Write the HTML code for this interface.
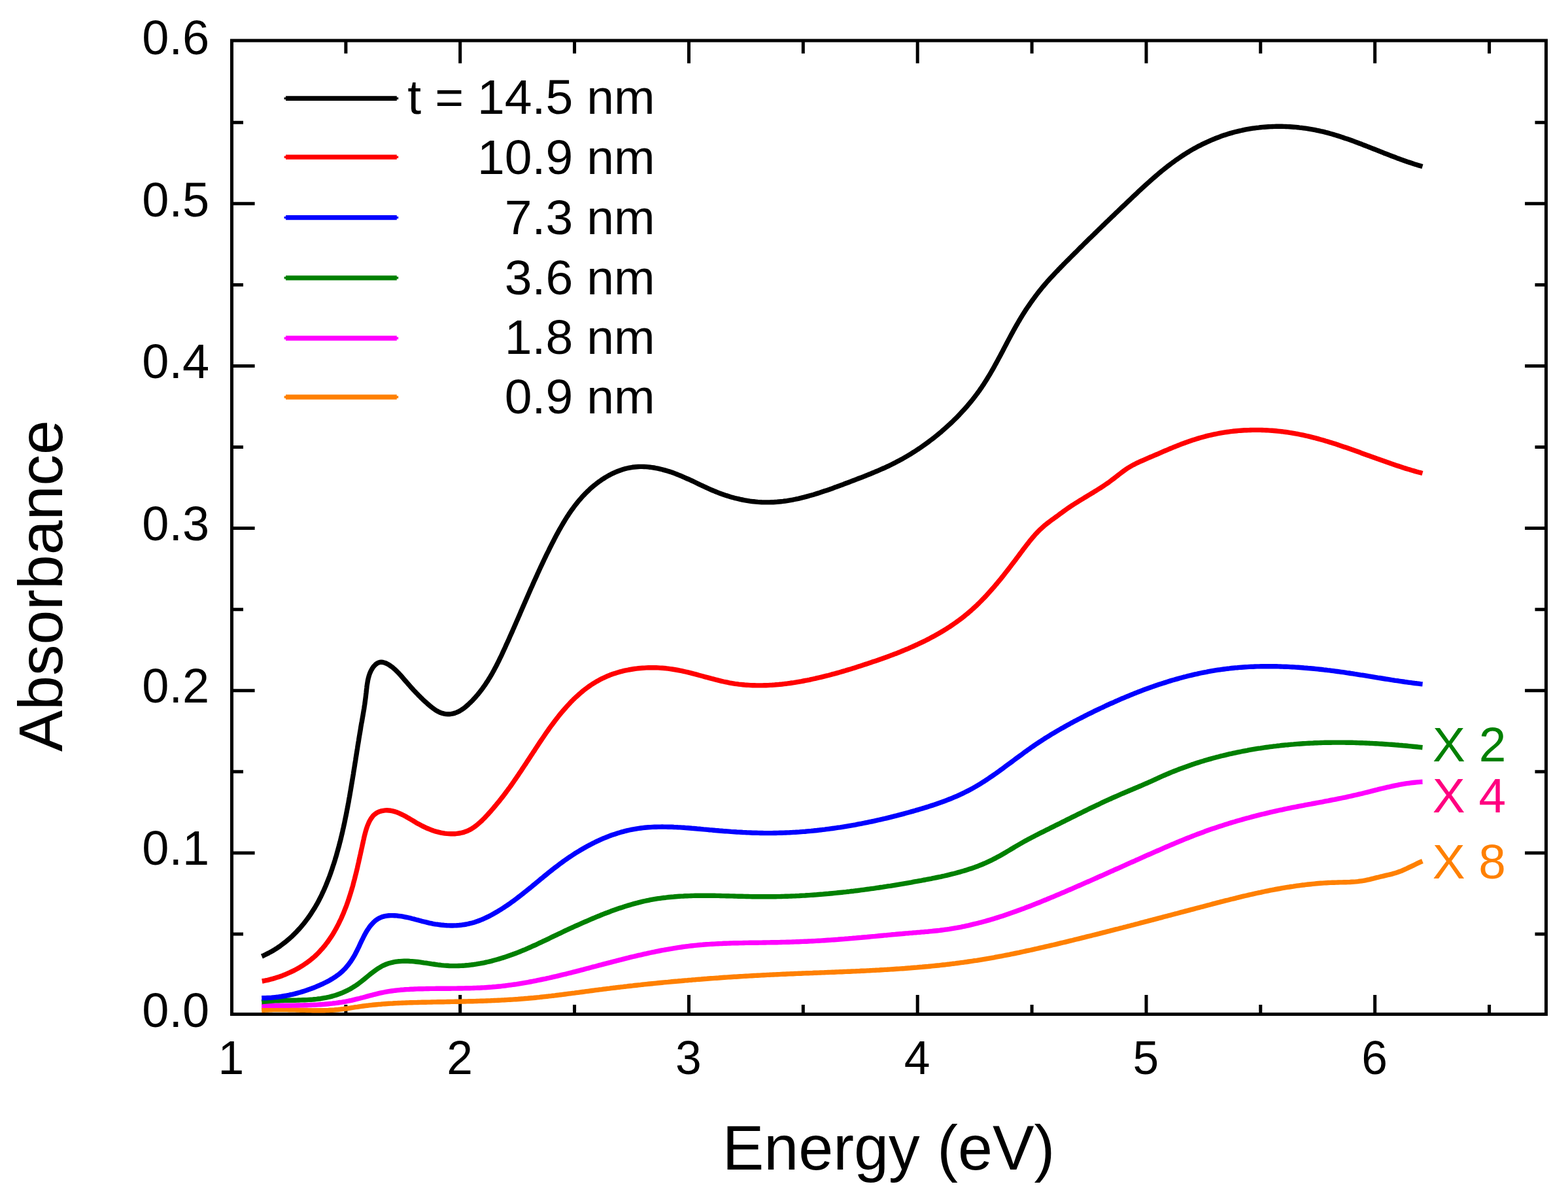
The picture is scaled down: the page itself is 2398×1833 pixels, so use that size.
<!DOCTYPE html>
<html><head><meta charset="utf-8"><title>Absorbance vs Energy</title>
<style>html,body{margin:0;padding:0;background:#fff;}body{width:2398px;height:1833px;overflow:hidden;}svg{display:block;}text{font-family:"Liberation Sans",Arial,sans-serif;}</style>
</head><body>
<svg width="2398" height="1833" viewBox="0 0 2398 1833">
<rect x="0" y="0" width="2398" height="1833" fill="#fff"/>
<g stroke="#000" stroke-width="5" fill="none" stroke-linecap="square">
<rect x="354.5" y="62.0" width="2010.0" height="1488.5" stroke-linecap="square" stroke-linejoin="miter"/>
<path stroke-linecap="butt" d="M703.7,1550.5V1521M703.7,62.0V96.8M1053.5,1550.5V1521M1053.5,62.0V96.8M1403.2,1550.5V1521M1403.2,62.0V96.8M1753,1550.5V1521M1753,62.0V96.8M2102.7,1550.5V1521M2102.7,62.0V96.8M528.9,1550.5V1536M528.9,62.0V81.8M878.6,1550.5V1536M878.6,62.0V81.8M1228.3,1550.5V1536M1228.3,62.0V81.8M1578.1,1550.5V1536M1578.1,62.0V81.8M1927.8,1550.5V1536M1927.8,62.0V81.8M2277.6,1550.5V1536M2277.6,62.0V81.8M354.5,1303.9H389.6M2364.5,1303.9H2332.1M354.5,1055.8H389.6M2364.5,1055.8H2332.1M354.5,807.6H389.6M2364.5,807.6H2332.1M354.5,559.4H389.6M2364.5,559.4H2332.1M354.5,311.3H389.6M2364.5,311.3H2332.1M354.5,1428H372M2364.5,1428H2347.5M354.5,1179.8H372M2364.5,1179.8H2347.5M354.5,931.7H372M2364.5,931.7H2347.5M354.5,683.5H372M2364.5,683.5H2347.5M354.5,435.4H372M2364.5,435.4H2347.5M354.5,187.2H372M2364.5,187.2H2347.5"/>
</g>
<g fill="none" stroke-width="7.4" stroke-linejoin="round" stroke-linecap="butt">
<path stroke="#FF8000" d="M400.1,1544.6L403.1,1544.4 406.0,1544.1 409.0,1544.0 412.0,1543.8 415.0,1543.7 418.0,1543.6 421.0,1543.6 424.0,1543.5 427.0,1543.5 430.0,1543.5 433.0,1543.5 436.0,1543.6 439.0,1543.6 442.0,1543.7 445.0,1543.8 448.0,1543.9 451.0,1543.9 454.0,1544.0 457.0,1544.1 460.0,1544.2 463.0,1544.3 466.0,1544.4 469.0,1544.5 472.0,1544.6 475.0,1544.6 478.0,1544.7 481.1,1544.7 484.1,1544.8 487.1,1544.8 490.1,1544.8 493.1,1544.7 496.1,1544.7 499.1,1544.6 502.1,1544.5 505.1,1544.3 508.0,1544.2 511.0,1544.0 514.0,1543.7 517.0,1543.5 520.0,1543.1 523.0,1542.8 525.9,1542.4 528.9,1542.0 531.9,1541.6 534.8,1541.1 537.8,1540.6 540.8,1540.2 543.7,1539.7 546.7,1539.3 549.7,1538.8 552.7,1538.4 555.6,1538.0 558.6,1537.6 561.6,1537.3 564.6,1536.9 567.5,1536.6 570.5,1536.3 573.5,1536.0 576.5,1535.7 579.5,1535.4 582.4,1535.2 585.4,1534.9 588.4,1534.7 591.4,1534.5 594.4,1534.3 597.4,1534.1 600.4,1534.0 603.4,1533.8 606.4,1533.6 609.3,1533.5 612.3,1533.4 615.3,1533.2 618.3,1533.1 621.3,1533.0 624.3,1532.9 627.3,1532.8 630.3,1532.7 633.3,1532.6 636.3,1532.6 639.3,1532.5 642.3,1532.4 645.3,1532.3 648.3,1532.3 651.3,1532.2 654.3,1532.1 657.3,1532.1 660.3,1532.0 663.3,1531.9 666.3,1531.9 669.3,1531.8 672.3,1531.8 675.3,1531.7 678.3,1531.7 681.3,1531.6 684.3,1531.5 687.3,1531.5 690.2,1531.4 693.2,1531.4 696.2,1531.3 699.2,1531.2 702.2,1531.2 705.2,1531.1 708.2,1531.0 711.2,1531.0 714.2,1530.9 717.2,1530.8 720.2,1530.7 723.2,1530.7 726.2,1530.6 729.2,1530.5 732.2,1530.4 735.2,1530.3 738.2,1530.2 741.2,1530.1 744.2,1530.0 747.2,1529.9 750.2,1529.8 753.2,1529.6 756.1,1529.5 759.1,1529.4 762.1,1529.2 765.1,1529.1 768.1,1528.9 771.1,1528.8 774.1,1528.6 777.1,1528.4 780.1,1528.2 783.1,1528.1 786.0,1527.9 789.0,1527.7 792.0,1527.5 795.0,1527.2 798.0,1527.0 801.0,1526.8 804.0,1526.5 807.0,1526.3 809.9,1526.0 812.9,1525.7 815.9,1525.5 818.9,1525.2 821.9,1524.9 824.8,1524.6 827.8,1524.2 830.8,1523.9 833.8,1523.6 836.8,1523.3 839.7,1522.9 842.7,1522.6 845.7,1522.2 848.7,1521.9 851.7,1521.5 854.6,1521.1 857.6,1520.8 860.6,1520.4 863.6,1520.0 866.5,1519.6 869.5,1519.2 872.5,1518.8 875.5,1518.4 878.4,1518.1 881.4,1517.7 884.4,1517.3 887.4,1516.9 890.4,1516.5 893.3,1516.1 896.3,1515.7 899.3,1515.3 902.3,1514.9 905.2,1514.5 908.2,1514.1 911.2,1513.7 914.2,1513.3 917.1,1512.9 920.1,1512.6 923.1,1512.2 926.1,1511.8 929.0,1511.4 932.0,1511.1 935.0,1510.7 938.0,1510.3 940.9,1510.0 943.9,1509.6 946.9,1509.3 949.9,1508.9 952.8,1508.6 955.8,1508.2 958.8,1507.9 961.8,1507.5 964.8,1507.2 967.7,1506.9 970.7,1506.5 973.7,1506.2 976.7,1505.9 979.6,1505.6 982.6,1505.2 985.6,1504.9 988.6,1504.6 991.6,1504.3 994.5,1504.0 997.5,1503.7 1000.5,1503.4 1003.5,1503.1 1006.5,1502.8 1009.4,1502.5 1012.4,1502.2 1015.4,1501.9 1018.4,1501.6 1021.4,1501.4 1024.3,1501.1 1027.3,1500.8 1030.3,1500.5 1033.3,1500.2 1036.3,1500.0 1039.3,1499.7 1042.2,1499.5 1045.2,1499.2 1048.2,1498.9 1051.2,1498.7 1054.2,1498.4 1057.1,1498.2 1060.1,1497.9 1063.1,1497.7 1066.1,1497.4 1069.1,1497.2 1072.1,1497.0 1075.1,1496.7 1078.0,1496.5 1081.0,1496.3 1084.0,1496.0 1087.0,1495.8 1090.0,1495.6 1093.0,1495.4 1096.0,1495.2 1098.9,1495.0 1101.9,1494.7 1104.9,1494.5 1107.9,1494.3 1110.9,1494.1 1113.9,1493.9 1116.9,1493.7 1119.9,1493.5 1122.8,1493.3 1125.8,1493.2 1128.8,1493.0 1131.8,1492.8 1134.8,1492.6 1137.8,1492.4 1140.8,1492.2 1143.8,1492.1 1146.8,1491.9 1149.8,1491.7 1152.8,1491.5 1155.7,1491.4 1158.7,1491.2 1161.7,1491.1 1164.7,1490.9 1167.7,1490.7 1170.7,1490.6 1173.7,1490.4 1176.7,1490.3 1179.7,1490.1 1182.7,1490.0 1185.7,1489.9 1188.7,1489.7 1191.7,1489.6 1194.7,1489.4 1197.7,1489.3 1200.7,1489.2 1203.7,1489.0 1206.7,1488.9 1209.7,1488.8 1212.7,1488.7 1215.7,1488.5 1218.7,1488.4 1221.7,1488.3 1224.7,1488.2 1227.6,1488.0 1230.6,1487.9 1233.6,1487.8 1236.6,1487.7 1239.6,1487.6 1242.6,1487.5 1245.6,1487.3 1248.6,1487.2 1251.6,1487.1 1254.6,1487.0 1257.6,1486.9 1260.6,1486.8 1263.6,1486.6 1266.6,1486.5 1269.6,1486.4 1272.6,1486.3 1275.6,1486.2 1278.6,1486.0 1281.6,1485.9 1284.6,1485.8 1287.6,1485.7 1290.6,1485.5 1293.6,1485.4 1296.6,1485.3 1299.6,1485.2 1302.6,1485.0 1305.6,1484.9 1308.6,1484.8 1311.6,1484.6 1314.6,1484.5 1317.6,1484.3 1320.6,1484.2 1323.6,1484.1 1326.6,1483.9 1329.6,1483.8 1332.6,1483.6 1335.6,1483.4 1338.6,1483.3 1341.6,1483.1 1344.6,1483.0 1347.6,1482.8 1350.6,1482.6 1353.6,1482.4 1356.5,1482.3 1359.5,1482.1 1362.5,1481.9 1365.5,1481.7 1368.5,1481.5 1371.5,1481.3 1374.5,1481.1 1377.5,1480.9 1380.5,1480.7 1383.5,1480.5 1386.4,1480.2 1389.4,1480.0 1392.4,1479.8 1395.4,1479.5 1398.4,1479.3 1401.4,1479.1 1404.4,1478.8 1407.3,1478.5 1410.3,1478.3 1413.3,1478.0 1416.3,1477.7 1419.3,1477.5 1422.2,1477.2 1425.2,1476.9 1428.2,1476.6 1431.2,1476.3 1434.2,1476.0 1437.1,1475.7 1440.1,1475.3 1443.1,1475.0 1446.1,1474.7 1449.0,1474.3 1452.0,1474.0 1455.0,1473.6 1457.9,1473.2 1460.9,1472.9 1463.9,1472.5 1466.8,1472.1 1469.8,1471.7 1472.8,1471.3 1475.7,1470.9 1478.7,1470.5 1481.7,1470.0 1484.6,1469.6 1487.6,1469.2 1490.5,1468.7 1493.5,1468.3 1496.5,1467.8 1499.4,1467.3 1502.4,1466.8 1505.3,1466.3 1508.3,1465.8 1511.2,1465.3 1514.2,1464.8 1517.1,1464.3 1520.1,1463.8 1523.0,1463.2 1526.0,1462.7 1528.9,1462.1 1531.9,1461.6 1534.8,1461.0 1537.8,1460.4 1540.7,1459.8 1543.6,1459.3 1546.6,1458.7 1549.5,1458.1 1552.5,1457.5 1555.4,1456.9 1558.3,1456.3 1561.3,1455.6 1564.2,1455.0 1567.1,1454.4 1570.1,1453.7 1573.0,1453.1 1575.9,1452.5 1578.9,1451.8 1581.8,1451.2 1584.7,1450.5 1587.6,1449.9 1590.6,1449.2 1593.5,1448.5 1596.4,1447.9 1599.3,1447.2 1602.3,1446.5 1605.2,1445.8 1608.1,1445.1 1611.0,1444.5 1614.0,1443.8 1616.9,1443.1 1619.8,1442.4 1622.7,1441.7 1625.6,1441.0 1628.5,1440.3 1631.5,1439.6 1634.4,1438.9 1637.3,1438.2 1640.2,1437.5 1643.1,1436.7 1646.0,1436.0 1648.9,1435.3 1651.8,1434.6 1654.7,1433.9 1657.7,1433.2 1660.6,1432.4 1663.5,1431.7 1666.4,1431.0 1669.3,1430.3 1672.2,1429.5 1675.1,1428.8 1678.0,1428.1 1680.9,1427.4 1683.8,1426.6 1686.7,1425.9 1689.6,1425.2 1692.5,1424.4 1695.4,1423.7 1698.3,1422.9 1701.2,1422.2 1704.1,1421.4 1707.0,1420.7 1709.9,1420.0 1712.8,1419.2 1715.7,1418.5 1718.6,1417.7 1721.5,1417.0 1724.4,1416.2 1727.3,1415.5 1730.2,1414.7 1733.1,1414.0 1736.0,1413.2 1738.9,1412.5 1741.8,1411.7 1744.7,1410.9 1747.6,1410.2 1750.5,1409.4 1753.4,1408.7 1756.3,1407.9 1759.2,1407.1 1762.1,1406.4 1765.0,1405.6 1767.8,1404.9 1770.7,1404.1 1773.6,1403.3 1776.5,1402.6 1779.4,1401.8 1782.3,1401.0 1785.2,1400.3 1788.1,1399.5 1791.0,1398.8 1793.9,1398.0 1796.8,1397.2 1799.7,1396.5 1802.6,1395.7 1805.5,1394.9 1808.4,1394.2 1811.3,1393.4 1814.2,1392.6 1817.1,1391.9 1820.0,1391.1 1822.9,1390.3 1825.8,1389.6 1828.7,1388.8 1831.6,1388.0 1834.5,1387.3 1837.4,1386.5 1840.3,1385.8 1843.2,1385.0 1846.1,1384.2 1849.0,1383.5 1851.9,1382.7 1854.8,1381.9 1857.7,1381.2 1860.6,1380.4 1863.5,1379.7 1866.4,1378.9 1869.3,1378.2 1872.2,1377.4 1875.1,1376.7 1878.1,1376.0 1881.0,1375.2 1883.9,1374.5 1886.8,1373.8 1889.7,1373.1 1892.6,1372.3 1895.5,1371.6 1898.4,1370.9 1901.4,1370.2 1904.3,1369.5 1907.2,1368.9 1910.1,1368.2 1913.0,1367.5 1916.0,1366.8 1918.9,1366.2 1921.8,1365.5 1924.7,1364.9 1927.7,1364.3 1930.6,1363.6 1933.5,1363.0 1936.5,1362.4 1939.4,1361.8 1942.3,1361.2 1945.3,1360.7 1948.2,1360.1 1951.2,1359.5 1954.1,1359.0 1957.0,1358.5 1960.0,1357.9 1962.9,1357.4 1965.9,1356.9 1968.8,1356.4 1971.8,1356.0 1974.7,1355.5 1977.7,1355.1 1980.7,1354.6 1983.6,1354.2 1986.6,1353.8 1989.6,1353.4 1992.5,1353.0 1995.5,1352.7 1998.5,1352.3 2001.4,1352.0 2004.4,1351.7 2007.4,1351.4 2010.4,1351.1 2013.4,1350.8 2016.4,1350.5 2019.3,1350.3 2022.3,1350.1 2025.3,1349.9 2028.3,1349.7 2031.3,1349.5 2034.3,1349.4 2037.3,1349.3 2040.4,1349.2 2043.4,1349.1 2046.4,1349.0 2049.4,1348.9 2052.4,1348.9 2055.4,1348.8 2058.4,1348.7 2061.4,1348.6 2064.4,1348.5 2067.4,1348.3 2070.4,1348.1 2073.4,1347.9 2076.4,1347.6 2079.3,1347.2 2082.3,1346.8 2085.2,1346.4 2088.2,1345.8 2091.1,1345.2 2094.0,1344.6 2096.9,1343.9 2099.8,1343.2 2102.7,1342.4 2105.6,1341.7 2108.5,1341.0 2111.4,1340.2 2114.3,1339.6 2117.2,1338.9 2120.2,1338.2 2123.1,1337.5 2126.0,1336.8 2128.9,1336.1 2131.7,1335.3 2134.6,1334.5 2137.4,1333.6 2140.2,1332.6 2142.9,1331.6 2145.6,1330.4 2148.4,1329.2 2151.0,1328.0 2153.7,1326.7 2156.4,1325.4 2159.1,1324.1 2161.8,1322.8 2164.5,1321.5 2167.2,1320.2 2169.9,1318.9 2172.7,1317.6 2175.4,1316.5"/>
<path stroke="#FF00FF" d="M400.1,1537.4L403.1,1537.4 406.1,1537.3 409.1,1537.3 412.1,1537.3 415.1,1537.3 418.1,1537.2 421.1,1537.2 424.1,1537.2 427.1,1537.2 430.1,1537.2 433.1,1537.2 436.1,1537.2 439.1,1537.2 442.1,1537.2 445.1,1537.1 448.2,1537.1 451.2,1537.1 454.2,1537.0 457.2,1537.0 460.2,1536.9 463.2,1536.9 466.2,1536.8 469.2,1536.7 472.2,1536.6 475.2,1536.5 478.2,1536.4 481.2,1536.2 484.2,1536.1 487.1,1535.9 490.1,1535.7 493.1,1535.5 496.1,1535.3 499.1,1535.0 502.1,1534.7 505.0,1534.4 508.0,1534.1 511.0,1533.7 513.9,1533.4 516.9,1533.0 519.8,1532.5 522.8,1532.1 525.7,1531.6 528.7,1531.1 531.6,1530.5 534.6,1529.9 537.5,1529.3 540.4,1528.6 543.3,1527.9 546.3,1527.2 549.2,1526.5 552.1,1525.7 555.0,1525.0 557.9,1524.2 560.8,1523.4 563.7,1522.6 566.6,1521.8 569.5,1521.1 572.4,1520.3 575.4,1519.6 578.3,1518.9 581.2,1518.2 584.1,1517.6 587.0,1517.0 590.0,1516.4 592.9,1515.9 595.9,1515.4 598.8,1515.0 601.7,1514.6 604.7,1514.2 607.7,1513.9 610.6,1513.6 613.6,1513.3 616.6,1513.1 619.5,1512.8 622.5,1512.6 625.5,1512.5 628.5,1512.3 631.5,1512.2 634.4,1512.0 637.4,1511.9 640.4,1511.8 643.4,1511.7 646.4,1511.7 649.4,1511.6 652.4,1511.5 655.4,1511.5 658.4,1511.4 661.4,1511.4 664.4,1511.4 667.4,1511.3 670.4,1511.3 673.4,1511.3 676.4,1511.3 679.4,1511.2 682.4,1511.2 685.4,1511.2 688.4,1511.2 691.4,1511.1 694.5,1511.1 697.5,1511.1 700.5,1511.0 703.5,1511.0 706.5,1511.0 709.5,1510.9 712.5,1510.8 715.5,1510.8 718.5,1510.7 721.5,1510.6 724.5,1510.5 727.5,1510.4 730.5,1510.3 733.5,1510.2 736.5,1510.0 739.4,1509.9 742.4,1509.7 745.4,1509.5 748.4,1509.3 751.4,1509.1 754.4,1508.8 757.3,1508.6 760.3,1508.3 763.3,1508.0 766.3,1507.7 769.2,1507.3 772.2,1507.0 775.2,1506.6 778.1,1506.2 781.1,1505.8 784.0,1505.4 787.0,1505.0 789.9,1504.6 792.9,1504.1 795.8,1503.6 798.8,1503.1 801.7,1502.6 804.7,1502.1 807.6,1501.6 810.6,1501.0 813.5,1500.5 816.4,1499.9 819.4,1499.3 822.3,1498.7 825.2,1498.1 828.2,1497.5 831.1,1496.9 834.0,1496.3 837.0,1495.6 839.9,1495.0 842.8,1494.3 845.7,1493.6 848.7,1493.0 851.6,1492.3 854.5,1491.6 857.4,1490.9 860.3,1490.2 863.2,1489.5 866.2,1488.8 869.1,1488.0 872.0,1487.3 874.9,1486.6 877.8,1485.8 880.7,1485.1 883.7,1484.3 886.6,1483.6 889.5,1482.8 892.4,1482.1 895.3,1481.3 898.2,1480.5 901.1,1479.8 904.0,1479.0 907.0,1478.2 909.9,1477.5 912.8,1476.7 915.7,1475.9 918.6,1475.2 921.5,1474.4 924.4,1473.6 927.3,1472.9 930.3,1472.1 933.2,1471.4 936.1,1470.6 939.0,1469.8 941.9,1469.1 944.8,1468.3 947.7,1467.6 950.7,1466.9 953.6,1466.1 956.5,1465.4 959.4,1464.7 962.3,1463.9 965.2,1463.2 968.2,1462.5 971.1,1461.8 974.0,1461.1 976.9,1460.4 979.9,1459.8 982.8,1459.1 985.7,1458.4 988.6,1457.8 991.6,1457.1 994.5,1456.5 997.4,1455.9 1000.4,1455.3 1003.3,1454.7 1006.2,1454.1 1009.2,1453.5 1012.1,1452.9 1015.1,1452.4 1018.0,1451.8 1021.0,1451.3 1023.9,1450.8 1026.9,1450.3 1029.8,1449.8 1032.8,1449.3 1035.7,1448.8 1038.7,1448.4 1041.6,1448.0 1044.6,1447.5 1047.6,1447.1 1050.5,1446.8 1053.5,1446.4 1056.5,1446.0 1059.4,1445.7 1062.4,1445.4 1065.4,1445.1 1068.4,1444.8 1071.4,1444.5 1074.3,1444.3 1077.3,1444.0 1080.3,1443.8 1083.3,1443.6 1086.3,1443.4 1089.3,1443.2 1092.3,1443.1 1095.3,1442.9 1098.3,1442.7 1101.3,1442.6 1104.3,1442.5 1107.3,1442.3 1110.3,1442.2 1113.3,1442.1 1116.3,1442.0 1119.3,1441.9 1122.3,1441.8 1125.3,1441.8 1128.3,1441.7 1131.3,1441.6 1134.3,1441.6 1137.3,1441.5 1140.4,1441.4 1143.4,1441.4 1146.4,1441.3 1149.4,1441.3 1152.4,1441.3 1155.4,1441.2 1158.4,1441.2 1161.4,1441.1 1164.4,1441.1 1167.4,1441.0 1170.5,1441.0 1173.5,1440.9 1176.5,1440.9 1179.5,1440.8 1182.5,1440.8 1185.5,1440.7 1188.5,1440.7 1191.5,1440.6 1194.5,1440.5 1197.5,1440.4 1200.5,1440.4 1203.5,1440.3 1206.5,1440.2 1209.5,1440.1 1212.5,1440.0 1215.5,1439.9 1218.5,1439.8 1221.5,1439.7 1224.5,1439.5 1227.5,1439.4 1230.5,1439.3 1233.5,1439.2 1236.5,1439.0 1239.4,1438.9 1242.4,1438.7 1245.4,1438.6 1248.4,1438.4 1251.4,1438.2 1254.4,1438.1 1257.4,1437.9 1260.4,1437.7 1263.4,1437.5 1266.3,1437.3 1269.3,1437.1 1272.3,1436.9 1275.3,1436.7 1278.3,1436.5 1281.3,1436.3 1284.2,1436.0 1287.2,1435.8 1290.2,1435.6 1293.2,1435.3 1296.2,1435.1 1299.2,1434.8 1302.1,1434.6 1305.1,1434.3 1308.1,1434.1 1311.1,1433.8 1314.1,1433.5 1317.0,1433.3 1320.0,1433.0 1323.0,1432.7 1326.0,1432.5 1329.0,1432.2 1331.9,1431.9 1334.9,1431.6 1337.9,1431.4 1340.9,1431.1 1343.9,1430.8 1346.9,1430.5 1349.9,1430.2 1352.8,1429.9 1355.8,1429.7 1358.8,1429.4 1361.8,1429.1 1364.8,1428.8 1367.8,1428.6 1370.8,1428.3 1373.8,1428.0 1376.8,1427.7 1379.8,1427.5 1382.7,1427.2 1385.7,1426.9 1388.7,1426.7 1391.7,1426.4 1394.7,1426.2 1397.7,1425.9 1400.7,1425.7 1403.8,1425.4 1406.8,1425.2 1409.8,1424.9 1412.8,1424.7 1415.8,1424.4 1418.8,1424.2 1421.8,1423.9 1424.8,1423.6 1427.8,1423.3 1430.8,1423.0 1433.8,1422.7 1436.8,1422.4 1439.7,1422.0 1442.7,1421.6 1445.7,1421.2 1448.7,1420.8 1451.6,1420.4 1454.6,1419.9 1457.5,1419.4 1460.5,1418.9 1463.4,1418.4 1466.4,1417.8 1469.3,1417.3 1472.2,1416.7 1475.2,1416.1 1478.1,1415.4 1481.0,1414.8 1483.9,1414.1 1486.8,1413.4 1489.7,1412.7 1492.6,1412.0 1495.5,1411.3 1498.4,1410.5 1501.3,1409.8 1504.2,1409.0 1507.1,1408.2 1509.9,1407.4 1512.8,1406.6 1515.7,1405.7 1518.6,1404.9 1521.4,1404.0 1524.3,1403.1 1527.1,1402.2 1530.0,1401.3 1532.8,1400.4 1535.7,1399.4 1538.5,1398.5 1541.4,1397.5 1544.2,1396.5 1547.0,1395.6 1549.9,1394.6 1552.7,1393.6 1555.5,1392.5 1558.3,1391.5 1561.1,1390.5 1563.9,1389.4 1566.8,1388.4 1569.6,1387.3 1572.4,1386.3 1575.2,1385.2 1578.0,1384.1 1580.8,1383.0 1583.6,1381.9 1586.4,1380.8 1589.2,1379.7 1591.9,1378.6 1594.7,1377.4 1597.5,1376.3 1600.3,1375.2 1603.1,1374.0 1605.8,1372.9 1608.6,1371.7 1611.4,1370.6 1614.2,1369.4 1616.9,1368.2 1619.7,1367.1 1622.5,1365.9 1625.2,1364.7 1628.0,1363.6 1630.7,1362.4 1633.5,1361.2 1636.3,1360.0 1639.0,1358.8 1641.8,1357.6 1644.5,1356.4 1647.3,1355.2 1650.0,1354.0 1652.8,1352.8 1655.5,1351.6 1658.2,1350.4 1661.0,1349.2 1663.7,1348.0 1666.5,1346.8 1669.2,1345.6 1672.0,1344.4 1674.7,1343.2 1677.4,1342.0 1680.2,1340.7 1682.9,1339.5 1685.7,1338.3 1688.4,1337.1 1691.1,1335.9 1693.9,1334.6 1696.6,1333.4 1699.3,1332.2 1702.1,1331.0 1704.8,1329.7 1707.5,1328.5 1710.3,1327.3 1713.0,1326.1 1715.7,1324.8 1718.5,1323.6 1721.2,1322.4 1723.9,1321.2 1726.7,1319.9 1729.4,1318.7 1732.1,1317.5 1734.9,1316.3 1737.6,1315.0 1740.4,1313.8 1743.1,1312.6 1745.8,1311.4 1748.6,1310.2 1751.3,1308.9 1754.0,1307.7 1756.8,1306.5 1759.5,1305.3 1762.3,1304.1 1765.0,1302.9 1767.8,1301.7 1770.5,1300.5 1773.3,1299.3 1776.0,1298.1 1778.8,1296.9 1781.5,1295.7 1784.3,1294.5 1787.0,1293.3 1789.8,1292.1 1792.5,1291.0 1795.3,1289.8 1798.1,1288.6 1800.8,1287.5 1803.6,1286.3 1806.4,1285.2 1809.1,1284.1 1811.9,1282.9 1814.7,1281.8 1817.5,1280.7 1820.3,1279.6 1823.1,1278.5 1825.9,1277.4 1828.6,1276.4 1831.4,1275.3 1834.3,1274.2 1837.1,1273.2 1839.9,1272.2 1842.7,1271.1 1845.5,1270.1 1848.3,1269.1 1851.2,1268.1 1854.0,1267.1 1856.8,1266.2 1859.7,1265.2 1862.5,1264.3 1865.4,1263.3 1868.2,1262.4 1871.1,1261.5 1873.9,1260.6 1876.8,1259.7 1879.6,1258.8 1882.5,1257.9 1885.4,1257.0 1888.3,1256.2 1891.1,1255.3 1894.0,1254.5 1896.9,1253.7 1899.8,1252.9 1902.7,1252.0 1905.6,1251.2 1908.5,1250.5 1911.4,1249.7 1914.3,1248.9 1917.2,1248.1 1920.1,1247.4 1923.0,1246.6 1925.9,1245.9 1928.8,1245.2 1931.7,1244.5 1934.6,1243.8 1937.5,1243.1 1940.5,1242.4 1943.4,1241.7 1946.3,1241.0 1949.2,1240.3 1952.2,1239.7 1955.1,1239.0 1958.0,1238.4 1961.0,1237.8 1963.9,1237.1 1966.8,1236.5 1969.8,1235.9 1972.7,1235.3 1975.7,1234.7 1978.6,1234.1 1981.5,1233.6 1984.5,1233.0 1987.4,1232.4 1990.4,1231.8 1993.3,1231.3 1996.3,1230.7 1999.2,1230.2 2002.2,1229.6 2005.1,1229.1 2008.1,1228.5 2011.0,1228.0 2014.0,1227.4 2016.9,1226.9 2019.9,1226.3 2022.8,1225.8 2025.7,1225.2 2028.7,1224.6 2031.6,1224.1 2034.6,1223.5 2037.5,1222.9 2040.5,1222.4 2043.4,1221.8 2046.3,1221.2 2049.3,1220.6 2052.2,1220.0 2055.2,1219.4 2058.1,1218.8 2061.0,1218.1 2063.9,1217.5 2066.9,1216.9 2069.8,1216.2 2072.7,1215.5 2075.6,1214.9 2078.5,1214.2 2081.5,1213.5 2084.4,1212.8 2087.3,1212.0 2090.2,1211.3 2093.1,1210.6 2096.0,1209.9 2098.9,1209.1 2101.8,1208.4 2104.7,1207.7 2107.6,1206.9 2110.5,1206.2 2113.4,1205.5 2116.4,1204.8 2119.3,1204.1 2122.2,1203.4 2125.1,1202.8 2128.0,1202.1 2131.0,1201.5 2133.9,1200.9 2136.8,1200.3 2139.8,1199.7 2142.7,1199.2 2145.7,1198.7 2148.6,1198.2 2151.6,1197.7 2154.5,1197.3 2157.5,1196.9 2160.5,1196.5 2163.5,1196.2 2166.5,1195.9 2169.5,1195.6 2172.5,1195.4 2175.5,1195.3"/>
<path stroke="#008000" d="M400.2,1531.8L403.1,1531.4 406.0,1531.0 408.9,1530.7 411.8,1530.5 414.8,1530.3 417.8,1530.1 420.7,1529.9 423.7,1529.8 426.7,1529.7 429.7,1529.6 432.7,1529.5 435.8,1529.4 438.8,1529.4 441.8,1529.3 444.9,1529.3 447.9,1529.2 451.0,1529.2 454.0,1529.1 457.0,1529.0 460.1,1528.9 463.1,1528.8 466.2,1528.7 469.2,1528.6 472.2,1528.4 475.3,1528.2 478.3,1528.0 481.3,1527.7 484.3,1527.4 487.2,1527.0 490.2,1526.7 493.1,1526.2 496.1,1525.7 499.0,1525.2 501.9,1524.5 504.8,1523.9 507.6,1523.1 510.5,1522.3 513.3,1521.5 516.1,1520.5 518.9,1519.5 521.6,1518.5 524.4,1517.4 527.0,1516.2 529.7,1514.9 532.4,1513.6 535.0,1512.2 537.6,1510.7 540.1,1509.2 542.6,1507.6 545.1,1506.0 547.6,1504.2 550.0,1502.4 552.4,1500.6 554.8,1498.7 557.1,1496.8 559.5,1494.9 561.8,1493.0 564.2,1491.0 566.5,1489.1 568.9,1487.3 571.3,1485.4 573.7,1483.7 576.1,1482.0 578.6,1480.3 581.1,1478.8 583.6,1477.3 586.2,1476.0 588.9,1474.8 591.6,1473.7 594.3,1472.8 597.2,1472.0 600.0,1471.3 602.9,1470.7 605.9,1470.2 608.8,1469.8 611.8,1469.6 614.8,1469.4 617.9,1469.3 620.9,1469.3 624.0,1469.3 627.0,1469.5 630.0,1469.6 633.1,1469.9 636.1,1470.2 639.1,1470.5 642.2,1470.9 645.2,1471.3 648.2,1471.8 651.2,1472.2 654.2,1472.7 657.2,1473.1 660.2,1473.6 663.2,1474.0 666.2,1474.5 669.2,1474.9 672.1,1475.2 675.1,1475.6 678.1,1475.9 681.1,1476.1 684.1,1476.3 687.1,1476.5 690.0,1476.6 693.0,1476.6 696.0,1476.6 699.0,1476.6 701.9,1476.5 704.9,1476.4 707.9,1476.2 710.8,1476.0 713.8,1475.7 716.8,1475.5 719.7,1475.1 722.7,1474.8 725.6,1474.3 728.6,1473.9 731.5,1473.4 734.4,1472.9 737.4,1472.3 740.3,1471.8 743.2,1471.1 746.1,1470.5 749.1,1469.8 752.0,1469.1 754.9,1468.3 757.8,1467.5 760.6,1466.7 763.5,1465.9 766.4,1465.0 769.3,1464.1 772.1,1463.2 775.0,1462.3 777.8,1461.3 780.7,1460.3 783.5,1459.3 786.3,1458.2 789.1,1457.2 792.0,1456.1 794.8,1455.0 797.5,1453.9 800.3,1452.7 803.1,1451.6 805.9,1450.4 808.6,1449.2 811.4,1448.0 814.1,1446.7 816.8,1445.5 819.6,1444.3 822.3,1443.0 825.0,1441.7 827.7,1440.5 830.4,1439.2 833.2,1437.9 835.9,1436.6 838.6,1435.3 841.2,1434.0 843.9,1432.7 846.6,1431.4 849.3,1430.1 852.0,1428.8 854.7,1427.5 857.4,1426.3 860.1,1425.0 862.8,1423.7 865.5,1422.4 868.2,1421.2 870.9,1419.9 873.6,1418.7 876.3,1417.5 879.0,1416.2 881.7,1415.0 884.4,1413.8 887.1,1412.6 889.8,1411.4 892.6,1410.2 895.3,1409.0 898.1,1407.8 900.8,1406.6 903.6,1405.4 906.3,1404.3 909.1,1403.1 911.9,1401.9 914.7,1400.8 917.5,1399.7 920.2,1398.5 923.0,1397.4 925.9,1396.3 928.7,1395.3 931.5,1394.2 934.3,1393.1 937.1,1392.1 940.0,1391.1 942.8,1390.1 945.6,1389.1 948.5,1388.1 951.4,1387.2 954.2,1386.2 957.1,1385.3 959.9,1384.4 962.8,1383.6 965.7,1382.7 968.6,1381.9 971.5,1381.1 974.4,1380.4 977.3,1379.6 980.2,1378.9 983.1,1378.2 986.0,1377.5 988.9,1376.9 991.8,1376.3 994.7,1375.7 997.7,1375.2 1000.6,1374.7 1003.5,1374.2 1006.5,1373.7 1009.4,1373.3 1012.3,1372.9 1015.3,1372.5 1018.2,1372.2 1021.2,1371.8 1024.2,1371.5 1027.1,1371.2 1030.1,1371.0 1033.1,1370.7 1036.0,1370.5 1039.0,1370.3 1042.0,1370.1 1045.0,1370.0 1047.9,1369.8 1050.9,1369.7 1053.9,1369.6 1056.9,1369.5 1059.9,1369.4 1062.9,1369.3 1065.9,1369.3 1068.9,1369.2 1071.9,1369.2 1074.9,1369.2 1077.9,1369.2 1080.9,1369.2 1083.9,1369.2 1086.9,1369.3 1089.9,1369.3 1092.9,1369.3 1095.9,1369.4 1098.9,1369.4 1101.9,1369.5 1104.9,1369.6 1108.0,1369.6 1111.0,1369.7 1114.0,1369.8 1117.0,1369.9 1120.0,1369.9 1123.0,1370.0 1126.0,1370.1 1129.1,1370.2 1132.1,1370.3 1135.1,1370.3 1138.1,1370.4 1141.1,1370.5 1144.1,1370.5 1147.1,1370.6 1150.2,1370.7 1153.2,1370.7 1156.2,1370.8 1159.2,1370.8 1162.2,1370.8 1165.2,1370.8 1168.2,1370.8 1171.2,1370.8 1174.2,1370.8 1177.2,1370.8 1180.2,1370.8 1183.2,1370.7 1186.2,1370.7 1189.2,1370.6 1192.2,1370.6 1195.2,1370.5 1198.2,1370.4 1201.2,1370.3 1204.2,1370.2 1207.2,1370.1 1210.2,1370.0 1213.2,1369.9 1216.2,1369.8 1219.1,1369.6 1222.1,1369.5 1225.1,1369.3 1228.1,1369.1 1231.1,1369.0 1234.1,1368.8 1237.1,1368.6 1240.0,1368.4 1243.0,1368.2 1246.0,1368.0 1249.0,1367.8 1252.0,1367.5 1254.9,1367.3 1257.9,1367.1 1260.9,1366.8 1263.9,1366.5 1266.9,1366.3 1269.8,1366.0 1272.8,1365.7 1275.8,1365.4 1278.7,1365.1 1281.7,1364.8 1284.7,1364.5 1287.7,1364.2 1290.6,1363.9 1293.6,1363.6 1296.6,1363.2 1299.5,1362.9 1302.5,1362.5 1305.5,1362.2 1308.4,1361.8 1311.4,1361.5 1314.4,1361.1 1317.3,1360.7 1320.3,1360.3 1323.3,1359.9 1326.2,1359.5 1329.2,1359.1 1332.2,1358.7 1335.1,1358.3 1338.1,1357.9 1341.0,1357.4 1344.0,1357.0 1347.0,1356.5 1349.9,1356.1 1352.9,1355.6 1355.8,1355.2 1358.8,1354.7 1361.8,1354.3 1364.7,1353.8 1367.7,1353.3 1370.6,1352.8 1373.6,1352.3 1376.5,1351.8 1379.5,1351.3 1382.5,1350.8 1385.4,1350.3 1388.4,1349.8 1391.3,1349.3 1394.3,1348.8 1397.2,1348.2 1400.2,1347.7 1403.2,1347.2 1406.1,1346.6 1409.1,1346.1 1412.0,1345.5 1415.0,1345.0 1417.9,1344.4 1420.9,1343.8 1423.8,1343.3 1426.8,1342.7 1429.7,1342.1 1432.7,1341.5 1435.6,1340.9 1438.6,1340.3 1441.5,1339.6 1444.4,1339.0 1447.3,1338.3 1450.3,1337.6 1453.2,1336.9 1456.1,1336.2 1459.0,1335.5 1461.9,1334.7 1464.8,1333.9 1467.7,1333.2 1470.5,1332.3 1473.4,1331.5 1476.3,1330.6 1479.1,1329.8 1481.9,1328.8 1484.8,1327.9 1487.6,1326.9 1490.4,1326.0 1493.2,1324.9 1496.0,1323.9 1498.8,1322.8 1501.5,1321.7 1504.3,1320.5 1507.0,1319.4 1509.7,1318.2 1512.4,1316.9 1515.1,1315.6 1517.8,1314.3 1520.5,1312.9 1523.1,1311.6 1525.8,1310.1 1528.4,1308.7 1531.0,1307.2 1533.6,1305.7 1536.2,1304.2 1538.8,1302.7 1541.4,1301.1 1544.0,1299.6 1546.6,1298.0 1549.2,1296.5 1551.8,1294.9 1554.4,1293.4 1557.0,1291.9 1559.6,1290.4 1562.2,1288.9 1564.8,1287.4 1567.4,1285.9 1570.1,1284.5 1572.7,1283.1 1575.3,1281.7 1578.0,1280.3 1580.6,1278.9 1583.3,1277.5 1586.0,1276.2 1588.6,1274.8 1591.3,1273.4 1594.0,1272.1 1596.7,1270.8 1599.3,1269.4 1602.0,1268.1 1604.7,1266.8 1607.4,1265.4 1610.0,1264.1 1612.7,1262.8 1615.4,1261.4 1618.1,1260.1 1620.8,1258.8 1623.4,1257.4 1626.1,1256.1 1628.8,1254.8 1631.5,1253.4 1634.1,1252.1 1636.8,1250.8 1639.5,1249.4 1642.2,1248.1 1644.9,1246.8 1647.5,1245.4 1650.2,1244.1 1652.9,1242.8 1655.6,1241.5 1658.3,1240.1 1661.0,1238.8 1663.7,1237.5 1666.4,1236.2 1669.1,1234.9 1671.8,1233.6 1674.5,1232.3 1677.2,1231.0 1679.9,1229.8 1682.6,1228.5 1685.3,1227.2 1688.0,1225.9 1690.7,1224.7 1693.5,1223.4 1696.2,1222.2 1698.9,1221.0 1701.7,1219.7 1704.4,1218.5 1707.1,1217.3 1709.9,1216.1 1712.6,1214.9 1715.4,1213.7 1718.2,1212.5 1720.9,1211.3 1723.7,1210.2 1726.4,1209.0 1729.2,1207.8 1732.0,1206.7 1734.7,1205.5 1737.5,1204.3 1740.3,1203.2 1743.0,1202.0 1745.8,1200.8 1748.5,1199.6 1751.3,1198.4 1754.0,1197.3 1756.7,1196.0 1759.5,1194.8 1762.2,1193.6 1764.9,1192.4 1767.6,1191.1 1770.3,1189.9 1773.0,1188.6 1775.7,1187.4 1778.5,1186.2 1781.2,1185.0 1783.9,1183.8 1786.6,1182.7 1789.4,1181.5 1792.1,1180.4 1794.9,1179.3 1797.6,1178.2 1800.4,1177.1 1803.2,1176.0 1806.0,1174.9 1808.8,1173.9 1811.6,1172.9 1814.4,1171.9 1817.2,1170.9 1820.0,1169.9 1822.8,1168.9 1825.7,1168.0 1828.5,1167.0 1831.4,1166.1 1834.2,1165.2 1837.1,1164.3 1840.0,1163.5 1842.8,1162.6 1845.7,1161.7 1848.6,1160.9 1851.5,1160.1 1854.4,1159.3 1857.3,1158.5 1860.2,1157.7 1863.1,1157.0 1866.0,1156.2 1868.9,1155.5 1871.8,1154.8 1874.8,1154.1 1877.7,1153.4 1880.6,1152.7 1883.5,1152.1 1886.5,1151.4 1889.4,1150.8 1892.3,1150.2 1895.3,1149.6 1898.2,1149.0 1901.1,1148.4 1904.1,1147.8 1907.0,1147.3 1910.0,1146.7 1912.9,1146.2 1915.9,1145.7 1918.8,1145.2 1921.8,1144.7 1924.7,1144.2 1927.7,1143.8 1930.6,1143.3 1933.6,1142.9 1936.5,1142.5 1939.5,1142.1 1942.5,1141.7 1945.4,1141.3 1948.4,1140.9 1951.4,1140.6 1954.3,1140.2 1957.3,1139.9 1960.3,1139.5 1963.3,1139.2 1966.2,1138.9 1969.2,1138.7 1972.2,1138.4 1975.2,1138.1 1978.2,1137.9 1981.1,1137.6 1984.1,1137.4 1987.1,1137.2 1990.1,1137.0 1993.1,1136.8 1996.1,1136.6 1999.0,1136.4 2002.0,1136.2 2005.0,1136.1 2008.0,1136.0 2011.0,1135.8 2014.0,1135.7 2017.0,1135.6 2020.0,1135.5 2023.0,1135.4 2026.0,1135.3 2029.0,1135.3 2032.0,1135.2 2035.0,1135.2 2038.0,1135.1 2041.0,1135.1 2044.0,1135.1 2047.0,1135.1 2050.0,1135.1 2053.0,1135.1 2056.0,1135.1 2059.0,1135.2 2062.0,1135.2 2065.0,1135.3 2068.0,1135.3 2071.0,1135.4 2074.0,1135.5 2077.0,1135.6 2080.0,1135.7 2083.0,1135.8 2086.0,1135.9 2089.0,1136.0 2092.0,1136.1 2095.0,1136.3 2098.0,1136.4 2101.0,1136.6 2104.0,1136.7 2107.0,1136.9 2110.0,1137.1 2113.0,1137.3 2116.0,1137.5 2118.9,1137.7 2121.9,1137.9 2124.9,1138.1 2127.9,1138.3 2130.9,1138.5 2133.9,1138.8 2136.9,1139.0 2139.8,1139.3 2142.8,1139.5 2145.8,1139.8 2148.8,1140.0 2151.8,1140.3 2154.7,1140.6 2157.7,1140.9 2160.7,1141.2 2163.6,1141.5 2166.6,1141.8 2169.6,1142.1 2172.5,1142.4 2175.5,1142.7"/>
<path stroke="#0000FF" d="M400.2,1525.8L403.1,1525.7 406.1,1525.7 409.1,1525.5 412.0,1525.4 415.0,1525.2 418.0,1524.9 420.9,1524.6 423.9,1524.3 426.9,1523.9 429.9,1523.5 432.8,1523.0 435.8,1522.5 438.7,1522.0 441.7,1521.4 444.6,1520.7 447.6,1520.1 450.5,1519.4 453.4,1518.6 456.3,1517.8 459.2,1517.0 462.1,1516.1 465.0,1515.2 467.9,1514.3 470.7,1513.3 473.6,1512.3 476.4,1511.3 479.2,1510.2 482.0,1509.1 484.8,1507.9 487.5,1506.8 490.2,1505.5 493.0,1504.3 495.7,1503.0 498.3,1501.7 501.0,1500.4 503.6,1499.0 506.1,1497.5 508.7,1496.0 511.2,1494.4 513.6,1492.8 516.0,1491.1 518.3,1489.3 520.6,1487.5 522.8,1485.6 525.0,1483.5 527.1,1481.4 529.1,1479.2 531.0,1476.9 532.9,1474.6 534.7,1472.1 536.5,1469.7 538.2,1467.1 539.8,1464.5 541.4,1461.9 542.9,1459.2 544.3,1456.5 545.7,1453.8 547.0,1451.1 548.4,1448.3 549.7,1445.6 550.9,1442.8 552.2,1440.1 553.5,1437.4 554.9,1434.7 556.2,1432.0 557.6,1429.3 559.0,1426.7 560.5,1424.1 562.1,1421.6 563.7,1419.2 565.4,1416.7 567.2,1414.4 569.2,1412.2 571.2,1410.1 573.3,1408.1 575.5,1406.3 577.9,1404.8 580.4,1403.4 583.0,1402.3 585.7,1401.3 588.5,1400.6 591.5,1400.1 594.4,1399.8 597.5,1399.6 600.5,1399.6 603.6,1399.7 606.8,1399.9 609.9,1400.3 613.0,1400.7 616.0,1401.2 619.1,1401.8 622.1,1402.4 625.0,1403.0 628.0,1403.7 630.9,1404.5 633.8,1405.2 636.6,1406.0 639.5,1406.7 642.4,1407.5 645.2,1408.3 648.1,1409.0 651.0,1409.7 653.8,1410.4 656.7,1411.1 659.6,1411.7 662.6,1412.3 665.5,1412.8 668.5,1413.2 671.4,1413.6 674.4,1414.0 677.4,1414.3 680.4,1414.6 683.4,1414.8 686.4,1414.9 689.4,1415.0 692.4,1415.0 695.3,1414.9 698.3,1414.8 701.3,1414.6 704.3,1414.3 707.3,1413.9 710.2,1413.5 713.2,1413.0 716.1,1412.4 719.0,1411.7 721.9,1411.0 724.8,1410.2 727.6,1409.3 730.5,1408.3 733.3,1407.2 736.1,1406.1 738.9,1405.0 741.7,1403.7 744.4,1402.4 747.1,1401.1 749.8,1399.7 752.5,1398.3 755.2,1396.8 757.8,1395.3 760.4,1393.8 763.0,1392.2 765.6,1390.6 768.1,1389.0 770.6,1387.4 773.1,1385.7 775.6,1384.1 778.1,1382.4 780.5,1380.7 782.9,1378.9 785.4,1377.2 787.8,1375.4 790.1,1373.6 792.5,1371.8 794.9,1370.0 797.2,1368.1 799.6,1366.3 801.9,1364.4 804.2,1362.6 806.6,1360.7 808.9,1358.8 811.2,1357.0 813.5,1355.1 815.8,1353.2 818.1,1351.3 820.4,1349.4 822.7,1347.5 825.0,1345.6 827.3,1343.7 829.6,1341.8 831.9,1339.9 834.3,1338.0 836.6,1336.1 838.9,1334.2 841.2,1332.4 843.6,1330.5 845.9,1328.6 848.3,1326.8 850.7,1325.0 853.1,1323.2 855.5,1321.3 857.9,1319.6 860.3,1317.8 862.7,1316.0 865.2,1314.3 867.7,1312.6 870.2,1310.8 872.7,1309.2 875.2,1307.5 877.7,1305.9 880.3,1304.2 882.9,1302.6 885.4,1301.1 888.0,1299.5 890.6,1298.0 893.2,1296.5 895.9,1295.0 898.5,1293.5 901.2,1292.1 903.9,1290.7 906.5,1289.3 909.2,1288.0 911.9,1286.7 914.7,1285.4 917.4,1284.1 920.1,1282.9 922.9,1281.7 925.6,1280.6 928.4,1279.5 931.2,1278.4 934.0,1277.3 936.8,1276.3 939.6,1275.4 942.5,1274.4 945.3,1273.5 948.1,1272.7 951.0,1271.8 953.9,1271.1 956.7,1270.3 959.6,1269.6 962.5,1269.0 965.4,1268.4 968.3,1267.8 971.2,1267.3 974.1,1266.8 977.1,1266.4 980.0,1266.0 983.0,1265.6 985.9,1265.3 988.9,1265.0 991.8,1264.8 994.8,1264.6 997.8,1264.4 1000.8,1264.3 1003.7,1264.2 1006.7,1264.1 1009.7,1264.1 1012.7,1264.0 1015.7,1264.1 1018.7,1264.1 1021.7,1264.2 1024.7,1264.2 1027.8,1264.3 1030.8,1264.5 1033.8,1264.6 1036.8,1264.8 1039.8,1264.9 1042.8,1265.1 1045.9,1265.3 1048.9,1265.6 1051.9,1265.8 1054.9,1266.0 1058.0,1266.3 1061.0,1266.5 1064.0,1266.8 1067.0,1267.1 1070.0,1267.3 1073.1,1267.6 1076.1,1267.9 1079.1,1268.1 1082.1,1268.4 1085.1,1268.7 1088.1,1268.9 1091.1,1269.2 1094.1,1269.5 1097.1,1269.7 1100.1,1270.0 1103.1,1270.2 1106.1,1270.5 1109.1,1270.7 1112.1,1270.9 1115.1,1271.1 1118.1,1271.4 1121.1,1271.6 1124.0,1271.8 1127.0,1272.0 1130.0,1272.1 1133.0,1272.3 1136.0,1272.5 1139.0,1272.6 1141.9,1272.8 1144.9,1272.9 1147.9,1273.0 1150.9,1273.2 1153.9,1273.3 1156.9,1273.3 1159.8,1273.4 1162.8,1273.5 1165.8,1273.5 1168.8,1273.6 1171.8,1273.6 1174.7,1273.6 1177.7,1273.6 1180.7,1273.6 1183.7,1273.5 1186.7,1273.5 1189.7,1273.4 1192.6,1273.3 1195.6,1273.2 1198.6,1273.1 1201.6,1273.0 1204.6,1272.9 1207.6,1272.8 1210.5,1272.6 1213.5,1272.4 1216.5,1272.3 1219.5,1272.1 1222.5,1271.9 1225.4,1271.6 1228.4,1271.4 1231.4,1271.2 1234.4,1270.9 1237.4,1270.6 1240.3,1270.4 1243.3,1270.1 1246.3,1269.8 1249.3,1269.5 1252.3,1269.1 1255.2,1268.8 1258.2,1268.4 1261.2,1268.1 1264.1,1267.7 1267.1,1267.3 1270.1,1266.9 1273.1,1266.5 1276.0,1266.1 1279.0,1265.7 1282.0,1265.2 1284.9,1264.8 1287.9,1264.3 1290.9,1263.8 1293.8,1263.3 1296.8,1262.8 1299.7,1262.3 1302.7,1261.8 1305.7,1261.3 1308.6,1260.8 1311.6,1260.2 1314.5,1259.6 1317.5,1259.1 1320.4,1258.5 1323.4,1257.9 1326.3,1257.3 1329.3,1256.7 1332.2,1256.1 1335.2,1255.5 1338.1,1254.8 1341.0,1254.2 1344.0,1253.5 1346.9,1252.8 1349.8,1252.2 1352.8,1251.5 1355.7,1250.8 1358.6,1250.1 1361.5,1249.4 1364.5,1248.6 1367.4,1247.9 1370.3,1247.2 1373.2,1246.4 1376.1,1245.7 1379.1,1244.9 1382.0,1244.1 1384.9,1243.3 1387.8,1242.5 1390.7,1241.7 1393.6,1240.9 1396.5,1240.1 1399.4,1239.3 1402.3,1238.4 1405.2,1237.6 1408.0,1236.7 1410.9,1235.9 1413.8,1235.0 1416.7,1234.1 1419.6,1233.2 1422.4,1232.3 1425.3,1231.4 1428.1,1230.5 1431.0,1229.5 1433.8,1228.5 1436.6,1227.5 1439.5,1226.5 1442.3,1225.5 1445.1,1224.5 1447.9,1223.4 1450.7,1222.3 1453.4,1221.2 1456.2,1220.1 1458.9,1218.9 1461.7,1217.8 1464.4,1216.6 1467.1,1215.3 1469.8,1214.1 1472.5,1212.8 1475.2,1211.5 1477.9,1210.2 1480.5,1208.9 1483.2,1207.5 1485.8,1206.1 1488.4,1204.6 1491.0,1203.1 1493.6,1201.6 1496.1,1200.1 1498.7,1198.6 1501.2,1197.0 1503.7,1195.4 1506.3,1193.8 1508.8,1192.1 1511.3,1190.5 1513.7,1188.8 1516.2,1187.1 1518.7,1185.4 1521.1,1183.7 1523.6,1182.0 1526.1,1180.2 1528.5,1178.5 1530.9,1176.7 1533.4,1174.9 1535.8,1173.1 1538.2,1171.3 1540.6,1169.6 1543.1,1167.8 1545.5,1166.0 1547.9,1164.2 1550.3,1162.4 1552.8,1160.6 1555.2,1158.8 1557.6,1157.0 1560.0,1155.2 1562.5,1153.4 1564.9,1151.6 1567.3,1149.8 1569.8,1148.1 1572.2,1146.3 1574.7,1144.6 1577.1,1142.8 1579.6,1141.1 1582.1,1139.4 1584.5,1137.7 1587.0,1136.1 1589.5,1134.4 1592.0,1132.8 1594.5,1131.2 1597.0,1129.5 1599.6,1127.9 1602.1,1126.4 1604.6,1124.8 1607.2,1123.2 1609.7,1121.7 1612.3,1120.2 1614.9,1118.6 1617.4,1117.1 1620.0,1115.6 1622.6,1114.1 1625.2,1112.7 1627.8,1111.2 1630.4,1109.7 1633.0,1108.3 1635.6,1106.9 1638.2,1105.4 1640.9,1104.0 1643.5,1102.6 1646.2,1101.2 1648.8,1099.8 1651.4,1098.5 1654.1,1097.1 1656.8,1095.7 1659.4,1094.4 1662.1,1093.0 1664.8,1091.7 1667.5,1090.4 1670.1,1089.1 1672.8,1087.7 1675.5,1086.4 1678.2,1085.1 1680.9,1083.8 1683.7,1082.5 1686.4,1081.3 1689.1,1080.0 1691.8,1078.7 1694.5,1077.5 1697.3,1076.2 1700.0,1075.0 1702.8,1073.8 1705.5,1072.5 1708.3,1071.3 1711.0,1070.1 1713.8,1068.9 1716.5,1067.7 1719.3,1066.6 1722.1,1065.4 1724.9,1064.3 1727.6,1063.1 1730.4,1062.0 1733.2,1060.9 1736.0,1059.7 1738.8,1058.6 1741.6,1057.5 1744.4,1056.5 1747.2,1055.4 1750.0,1054.3 1752.9,1053.3 1755.7,1052.3 1758.5,1051.3 1761.3,1050.2 1764.2,1049.3 1767.0,1048.3 1769.9,1047.3 1772.7,1046.3 1775.5,1045.4 1778.4,1044.5 1781.3,1043.6 1784.1,1042.7 1787.0,1041.8 1789.9,1040.9 1792.7,1040.0 1795.6,1039.2 1798.5,1038.4 1801.4,1037.6 1804.2,1036.8 1807.1,1036.0 1810.0,1035.2 1812.9,1034.5 1815.8,1033.7 1818.7,1033.0 1821.6,1032.3 1824.6,1031.6 1827.5,1030.9 1830.4,1030.3 1833.3,1029.6 1836.2,1029.0 1839.2,1028.4 1842.1,1027.8 1845.0,1027.3 1848.0,1026.7 1850.9,1026.2 1853.8,1025.7 1856.8,1025.2 1859.7,1024.7 1862.7,1024.2 1865.6,1023.8 1868.6,1023.4 1871.6,1023.0 1874.5,1022.6 1877.5,1022.2 1880.4,1021.9 1883.4,1021.5 1886.4,1021.2 1889.4,1020.9 1892.3,1020.7 1895.3,1020.4 1898.3,1020.2 1901.3,1020.0 1904.3,1019.8 1907.3,1019.6 1910.3,1019.4 1913.3,1019.3 1916.3,1019.2 1919.2,1019.0 1922.2,1018.9 1925.2,1018.9 1928.2,1018.8 1931.2,1018.7 1934.2,1018.7 1937.2,1018.7 1940.3,1018.7 1943.3,1018.7 1946.3,1018.7 1949.3,1018.8 1952.3,1018.8 1955.3,1018.9 1958.3,1019.0 1961.3,1019.1 1964.3,1019.2 1967.3,1019.3 1970.3,1019.4 1973.3,1019.6 1976.3,1019.7 1979.3,1019.9 1982.3,1020.1 1985.3,1020.3 1988.3,1020.5 1991.4,1020.7 1994.4,1021.0 1997.4,1021.2 2000.4,1021.5 2003.4,1021.7 2006.4,1022.0 2009.4,1022.3 2012.3,1022.6 2015.3,1022.9 2018.3,1023.2 2021.3,1023.5 2024.3,1023.9 2027.3,1024.2 2030.3,1024.6 2033.3,1024.9 2036.3,1025.3 2039.2,1025.7 2042.2,1026.1 2045.2,1026.5 2048.2,1026.9 2051.1,1027.3 2054.1,1027.7 2057.1,1028.1 2060.0,1028.6 2063.0,1029.0 2065.9,1029.5 2068.9,1029.9 2071.8,1030.4 2074.8,1030.8 2077.7,1031.3 2080.7,1031.8 2083.6,1032.2 2086.6,1032.7 2089.5,1033.2 2092.5,1033.7 2095.4,1034.1 2098.4,1034.6 2101.3,1035.1 2104.2,1035.6 2107.2,1036.1 2110.1,1036.5 2113.1,1037.0 2116.0,1037.5 2119.0,1038.0 2121.9,1038.4 2124.9,1038.9 2127.9,1039.4 2130.8,1039.8 2133.8,1040.3 2136.7,1040.7 2139.7,1041.2 2142.7,1041.6 2145.6,1042.0 2148.6,1042.5 2151.6,1042.9 2154.6,1043.3 2157.6,1043.7 2160.5,1044.1 2163.5,1044.5 2166.5,1044.8 2169.5,1045.2 2172.5,1045.6 2175.6,1045.9"/>
<path stroke="#FF0000" d="M400.8,1500.0L403.6,1499.5 406.4,1498.9 409.3,1498.3 412.1,1497.6 415.0,1496.8 417.8,1496.1 420.7,1495.2 423.6,1494.3 426.4,1493.4 429.2,1492.4 432.1,1491.4 434.9,1490.3 437.7,1489.1 440.5,1487.9 443.3,1486.7 446.0,1485.4 448.7,1484.1 451.4,1482.7 454.1,1481.3 456.8,1479.8 459.4,1478.2 462.0,1476.6 464.5,1475.0 467.0,1473.3 469.5,1471.6 471.9,1469.8 474.3,1468.0 476.6,1466.1 478.9,1464.2 481.2,1462.2 483.3,1460.2 485.5,1458.1 487.6,1456.0 489.6,1453.8 491.6,1451.6 493.6,1449.4 495.5,1447.1 497.4,1444.8 499.2,1442.4 501.0,1440.1 502.7,1437.6 504.4,1435.2 506.1,1432.7 507.7,1430.2 509.3,1427.7 510.8,1425.1 512.3,1422.5 513.8,1419.9 515.2,1417.3 516.6,1414.6 518.0,1411.9 519.3,1409.2 520.6,1406.5 521.9,1403.8 523.1,1401.0 524.3,1398.3 525.5,1395.5 526.6,1392.7 527.7,1389.9 528.8,1387.1 529.9,1384.3 530.9,1381.5 531.9,1378.6 532.9,1375.8 533.8,1373.0 534.7,1370.1 535.6,1367.3 536.5,1364.4 537.4,1361.5 538.2,1358.7 539.1,1355.8 539.9,1352.9 540.6,1350.0 541.4,1347.1 542.2,1344.2 542.9,1341.3 543.6,1338.4 544.4,1335.5 545.1,1332.6 545.8,1329.7 546.5,1326.8 547.1,1323.9 547.8,1321.0 548.5,1318.0 549.1,1315.1 549.8,1312.2 550.4,1309.2 551.1,1306.3 551.7,1303.4 552.4,1300.4 553.0,1297.5 553.7,1294.6 554.3,1291.6 555.0,1288.7 555.6,1285.7 556.3,1282.8 556.9,1279.8 557.6,1276.9 558.4,1274.0 559.2,1271.1 560.0,1268.2 561.0,1265.3 562.0,1262.4 563.2,1259.6 564.4,1256.8 565.8,1254.1 567.4,1251.5 569.1,1249.1 570.9,1246.8 573.0,1244.9 575.3,1243.2 577.8,1241.8 580.4,1240.7 583.1,1239.9 586.0,1239.3 588.9,1238.9 591.8,1238.8 594.7,1239.0 597.6,1239.3 600.5,1239.9 603.3,1240.6 606.2,1241.5 609.0,1242.6 611.8,1243.8 614.5,1245.1 617.3,1246.5 620.0,1247.9 622.7,1249.5 625.4,1251.0 628.1,1252.6 630.7,1254.2 633.4,1255.8 636.0,1257.4 638.7,1258.9 641.3,1260.3 643.9,1261.7 646.6,1263.1 649.2,1264.4 651.9,1265.7 654.6,1266.8 657.3,1267.9 660.1,1269.0 662.9,1270.0 665.7,1270.9 668.6,1271.7 671.5,1272.4 674.5,1273.1 677.4,1273.6 680.4,1274.1 683.5,1274.4 686.5,1274.6 689.5,1274.8 692.5,1274.8 695.5,1274.7 698.5,1274.4 701.4,1274.0 704.3,1273.5 707.2,1272.9 710.0,1272.1 712.8,1271.1 715.5,1270.0 718.2,1268.7 720.7,1267.3 723.3,1265.7 725.7,1264.0 728.1,1262.2 730.5,1260.3 732.8,1258.3 735.1,1256.3 737.3,1254.2 739.5,1252.0 741.7,1249.8 743.8,1247.5 745.9,1245.3 747.9,1243.0 750.0,1240.7 752.0,1238.4 754.0,1236.1 755.9,1233.8 757.9,1231.5 759.8,1229.2 761.7,1226.9 763.6,1224.6 765.4,1222.3 767.3,1219.9 769.1,1217.6 770.9,1215.2 772.7,1212.9 774.4,1210.5 776.2,1208.1 777.9,1205.8 779.7,1203.4 781.4,1201.0 783.1,1198.6 784.8,1196.2 786.4,1193.8 788.1,1191.3 789.8,1188.9 791.4,1186.5 793.1,1184.1 794.7,1181.6 796.4,1179.2 798.0,1176.7 799.7,1174.2 801.3,1171.8 802.9,1169.3 804.6,1166.8 806.2,1164.3 807.8,1161.9 809.4,1159.4 811.1,1156.9 812.7,1154.3 814.4,1151.8 816.0,1149.3 817.7,1146.8 819.3,1144.3 821.0,1141.7 822.7,1139.2 824.3,1136.6 826.0,1134.1 827.7,1131.6 829.5,1129.0 831.2,1126.5 832.9,1124.0 834.6,1121.4 836.4,1118.9 838.2,1116.4 839.9,1113.9 841.7,1111.4 843.5,1108.9 845.4,1106.4 847.2,1104.0 849.1,1101.5 850.9,1099.1 852.8,1096.7 854.7,1094.3 856.6,1091.9 858.5,1089.6 860.5,1087.3 862.5,1085.0 864.5,1082.7 866.5,1080.4 868.5,1078.2 870.6,1076.0 872.6,1073.8 874.7,1071.6 876.8,1069.5 879.0,1067.4 881.1,1065.4 883.3,1063.4 885.5,1061.4 887.8,1059.5 890.0,1057.6 892.3,1055.7 894.6,1053.9 897.0,1052.1 899.3,1050.3 901.7,1048.7 904.1,1047.0 906.6,1045.4 909.1,1043.8 911.6,1042.3 914.1,1040.9 916.7,1039.5 919.3,1038.1 921.9,1036.8 924.6,1035.6 927.3,1034.4 930.0,1033.2 932.7,1032.1 935.5,1031.1 938.3,1030.1 941.1,1029.2 944.0,1028.3 946.8,1027.4 949.7,1026.7 952.6,1025.9 955.5,1025.2 958.5,1024.6 961.4,1024.0 964.4,1023.5 967.3,1023.0 970.3,1022.5 973.3,1022.1 976.3,1021.8 979.4,1021.5 982.4,1021.3 985.4,1021.1 988.4,1020.9 991.5,1020.8 994.5,1020.7 997.6,1020.7 1000.6,1020.7 1003.6,1020.8 1006.7,1020.9 1009.7,1021.1 1012.8,1021.3 1015.8,1021.5 1018.8,1021.8 1021.8,1022.2 1024.8,1022.6 1027.8,1023.0 1030.8,1023.5 1033.8,1024.0 1036.7,1024.5 1039.7,1025.1 1042.6,1025.7 1045.6,1026.3 1048.5,1027.0 1051.4,1027.7 1054.4,1028.4 1057.3,1029.1 1060.2,1029.9 1063.1,1030.6 1066.0,1031.4 1068.9,1032.2 1071.8,1033.0 1074.7,1033.8 1077.6,1034.6 1080.5,1035.3 1083.4,1036.1 1086.3,1036.9 1089.2,1037.7 1092.1,1038.4 1094.9,1039.2 1097.8,1039.9 1100.7,1040.6 1103.6,1041.3 1106.6,1042.0 1109.5,1042.6 1112.4,1043.2 1115.3,1043.8 1118.2,1044.3 1121.2,1044.8 1124.1,1045.3 1127.0,1045.7 1130.0,1046.1 1133.0,1046.4 1135.9,1046.7 1138.9,1047.0 1141.9,1047.2 1144.8,1047.4 1147.8,1047.6 1150.8,1047.7 1153.8,1047.8 1156.8,1047.9 1159.8,1047.9 1162.8,1047.9 1165.8,1047.9 1168.8,1047.8 1171.8,1047.7 1174.8,1047.6 1177.8,1047.4 1180.8,1047.3 1183.8,1047.1 1186.9,1046.8 1189.9,1046.6 1192.9,1046.3 1195.9,1046.0 1198.9,1045.6 1201.9,1045.3 1204.9,1044.9 1207.9,1044.5 1210.9,1044.0 1213.9,1043.6 1216.9,1043.1 1219.8,1042.6 1222.8,1042.1 1225.8,1041.6 1228.8,1041.0 1231.7,1040.4 1234.7,1039.9 1237.7,1039.3 1240.6,1038.6 1243.5,1038.0 1246.5,1037.4 1249.4,1036.7 1252.3,1036.0 1255.2,1035.3 1258.2,1034.6 1261.1,1033.9 1264.0,1033.2 1266.9,1032.5 1269.8,1031.7 1272.6,1030.9 1275.5,1030.2 1278.4,1029.4 1281.3,1028.6 1284.2,1027.8 1287.0,1026.9 1289.9,1026.1 1292.7,1025.3 1295.6,1024.4 1298.5,1023.5 1301.3,1022.7 1304.2,1021.8 1307.0,1020.9 1309.9,1020.0 1312.7,1019.1 1315.5,1018.2 1318.4,1017.3 1321.2,1016.3 1324.1,1015.4 1326.9,1014.5 1329.7,1013.5 1332.6,1012.6 1335.4,1011.6 1338.2,1010.7 1341.1,1009.7 1343.9,1008.7 1346.7,1007.7 1349.6,1006.7 1352.4,1005.7 1355.2,1004.7 1358.0,1003.7 1360.9,1002.6 1363.7,1001.6 1366.5,1000.5 1369.3,999.4 1372.1,998.4 1374.9,997.3 1377.7,996.1 1380.4,995.0 1383.2,993.9 1386.0,992.7 1388.8,991.6 1391.5,990.4 1394.3,989.2 1397.0,988.0 1399.8,986.7 1402.5,985.5 1405.2,984.2 1407.9,982.9 1410.6,981.6 1413.3,980.3 1416.0,979.0 1418.7,977.6 1421.4,976.2 1424.0,974.8 1426.7,973.4 1429.3,972.0 1431.9,970.5 1434.6,969.0 1437.2,967.5 1439.7,966.0 1442.3,964.5 1444.9,962.9 1447.4,961.3 1450.0,959.7 1452.5,958.1 1455.0,956.4 1457.4,954.7 1459.9,953.0 1462.4,951.3 1464.8,949.5 1467.2,947.8 1469.6,946.0 1472.0,944.2 1474.3,942.3 1476.6,940.4 1478.9,938.6 1481.2,936.6 1483.5,934.7 1485.7,932.7 1487.9,930.8 1490.1,928.7 1492.3,926.7 1494.5,924.7 1496.6,922.6 1498.7,920.5 1500.8,918.4 1502.9,916.2 1505.0,914.1 1507.1,911.9 1509.1,909.7 1511.1,907.5 1513.1,905.3 1515.1,903.1 1517.1,900.8 1519.1,898.6 1521.0,896.3 1522.9,894.0 1524.9,891.7 1526.8,889.4 1528.7,887.1 1530.6,884.8 1532.5,882.4 1534.4,880.1 1536.2,877.7 1538.1,875.3 1539.9,873.0 1541.8,870.6 1543.6,868.2 1545.5,865.8 1547.3,863.4 1549.1,861.0 1551.0,858.6 1552.8,856.2 1554.6,853.8 1556.4,851.4 1558.2,849.0 1560.0,846.5 1561.8,844.1 1563.6,841.7 1565.4,839.3 1567.3,836.9 1569.1,834.5 1570.9,832.1 1572.8,829.8 1574.6,827.4 1576.5,825.1 1578.4,822.8 1580.4,820.5 1582.3,818.3 1584.3,816.1 1586.4,813.9 1588.4,811.8 1590.5,809.7 1592.7,807.7 1594.9,805.7 1597.1,803.7 1599.4,801.8 1601.7,800.0 1604.1,798.2 1606.5,796.4 1608.9,794.6 1611.3,792.9 1613.7,791.1 1616.2,789.4 1618.6,787.6 1621.0,785.8 1623.4,784.1 1625.8,782.3 1628.2,780.5 1630.7,778.8 1633.1,777.1 1635.6,775.4 1638.0,773.7 1640.5,772.1 1643.0,770.5 1645.6,768.8 1648.1,767.3 1650.7,765.7 1653.2,764.1 1655.8,762.6 1658.3,761.0 1660.9,759.5 1663.5,757.9 1666.0,756.4 1668.6,754.8 1671.2,753.3 1673.7,751.7 1676.3,750.1 1678.8,748.5 1681.4,746.9 1683.9,745.3 1686.4,743.7 1688.9,742.0 1691.4,740.3 1693.9,738.6 1696.3,736.9 1698.7,735.1 1701.1,733.3 1703.5,731.5 1705.9,729.6 1708.3,727.8 1710.6,725.9 1713.0,724.1 1715.4,722.3 1717.8,720.5 1720.2,718.7 1722.6,717.0 1725.1,715.4 1727.7,713.9 1730.2,712.4 1732.8,710.9 1735.5,709.6 1738.1,708.2 1740.8,707.0 1743.5,705.7 1746.3,704.5 1749.0,703.3 1751.7,702.1 1754.5,700.9 1757.3,699.7 1760.0,698.5 1762.8,697.4 1765.5,696.2 1768.3,695.0 1771.1,693.8 1773.8,692.6 1776.6,691.4 1779.3,690.2 1782.1,689.0 1784.9,687.9 1787.7,686.7 1790.4,685.5 1793.2,684.4 1796.0,683.2 1798.8,682.1 1801.6,681.0 1804.4,679.9 1807.2,678.8 1810.0,677.8 1812.8,676.7 1815.6,675.7 1818.4,674.7 1821.3,673.7 1824.1,672.8 1826.9,671.9 1829.8,671.0 1832.7,670.1 1835.5,669.3 1838.4,668.5 1841.3,667.7 1844.2,666.9 1847.1,666.2 1850.0,665.5 1852.9,664.8 1855.8,664.2 1858.8,663.6 1861.7,663.0 1864.6,662.4 1867.6,661.9 1870.5,661.4 1873.5,660.9 1876.4,660.5 1879.4,660.1 1882.4,659.7 1885.3,659.3 1888.3,659.0 1891.3,658.7 1894.3,658.4 1897.3,658.2 1900.3,658.0 1903.3,657.8 1906.3,657.7 1909.3,657.6 1912.3,657.5 1915.3,657.4 1918.3,657.4 1921.3,657.4 1924.3,657.4 1927.3,657.4 1930.3,657.5 1933.3,657.6 1936.3,657.7 1939.3,657.9 1942.3,658.1 1945.3,658.3 1948.3,658.5 1951.3,658.8 1954.3,659.1 1957.3,659.4 1960.3,659.7 1963.3,660.1 1966.3,660.5 1969.2,660.9 1972.2,661.4 1975.2,661.8 1978.1,662.3 1981.1,662.9 1984.1,663.4 1987.0,664.0 1989.9,664.6 1992.9,665.2 1995.8,665.8 1998.7,666.5 2001.6,667.2 2004.5,667.9 2007.4,668.6 2010.3,669.3 2013.2,670.1 2016.1,670.9 2019.0,671.7 2021.9,672.5 2024.7,673.3 2027.6,674.2 2030.5,675.0 2033.3,675.9 2036.2,676.8 2039.1,677.7 2041.9,678.6 2044.8,679.5 2047.6,680.5 2050.4,681.4 2053.3,682.4 2056.1,683.4 2059.0,684.3 2061.8,685.3 2064.6,686.3 2067.4,687.3 2070.3,688.3 2073.1,689.3 2075.9,690.3 2078.8,691.3 2081.6,692.4 2084.4,693.4 2087.2,694.4 2090.0,695.4 2092.9,696.4 2095.7,697.5 2098.5,698.5 2101.3,699.5 2104.2,700.5 2107.0,701.6 2109.8,702.6 2112.6,703.6 2115.5,704.6 2118.3,705.6 2121.1,706.6 2124.0,707.6 2126.8,708.6 2129.6,709.5 2132.5,710.5 2135.3,711.5 2138.2,712.4 2141.0,713.3 2143.9,714.3 2146.7,715.2 2149.6,716.1 2152.4,717.0 2155.3,717.8 2158.2,718.7 2161.0,719.5 2163.9,720.4 2166.8,721.2 2169.7,722.0 2172.6,722.7 2175.5,723.5"/>
<path stroke="#000000" d="M400.4,1462.0L403.2,1460.8 405.8,1459.5 408.5,1458.2 411.1,1456.9 413.7,1455.4 416.3,1454.0 418.9,1452.5 421.4,1450.9 423.9,1449.3 426.4,1447.6 428.8,1445.9 431.2,1444.1 433.6,1442.3 436.0,1440.5 438.3,1438.6 440.6,1436.7 442.8,1434.7 445.1,1432.7 447.3,1430.7 449.4,1428.6 451.6,1426.4 453.7,1424.3 455.7,1422.1 457.8,1419.9 459.8,1417.6 461.7,1415.4 463.7,1413.0 465.5,1410.7 467.4,1408.3 469.2,1405.9 471.0,1403.5 472.7,1401.1 474.4,1398.6 476.1,1396.1 477.7,1393.6 479.3,1391.1 480.9,1388.6 482.4,1386.0 483.9,1383.4 485.4,1380.8 486.8,1378.2 488.2,1375.5 489.5,1372.9 490.9,1370.2 492.2,1367.5 493.4,1364.8 494.7,1362.1 495.9,1359.4 497.1,1356.6 498.3,1353.9 499.4,1351.1 500.5,1348.4 501.6,1345.6 502.7,1342.8 503.8,1340.0 504.8,1337.2 505.8,1334.4 506.8,1331.5 507.8,1328.7 508.7,1325.9 509.6,1323.0 510.6,1320.2 511.5,1317.4 512.4,1314.5 513.2,1311.6 514.1,1308.8 514.9,1305.9 515.7,1303.0 516.5,1300.2 517.3,1297.3 518.1,1294.4 518.9,1291.5 519.6,1288.6 520.4,1285.7 521.1,1282.8 521.8,1279.9 522.5,1277.0 523.2,1274.1 523.9,1271.1 524.5,1268.2 525.2,1265.3 525.8,1262.4 526.5,1259.4 527.1,1256.5 527.7,1253.6 528.3,1250.6 528.9,1247.7 529.5,1244.8 530.1,1241.8 530.6,1238.9 531.2,1235.9 531.8,1233.0 532.3,1230.0 532.9,1227.0 533.4,1224.1 533.9,1221.1 534.5,1218.2 535.0,1215.2 535.5,1212.2 536.0,1209.3 536.5,1206.3 537.0,1203.3 537.5,1200.4 538.0,1197.4 538.5,1194.4 539.0,1191.5 539.5,1188.5 540.0,1185.5 540.5,1182.6 540.9,1179.6 541.4,1176.6 541.9,1173.7 542.4,1170.7 542.8,1167.7 543.3,1164.8 543.8,1161.8 544.2,1158.8 544.7,1155.9 545.2,1152.9 545.6,1150.0 546.1,1147.0 546.6,1144.1 547.0,1141.1 547.5,1138.2 548.0,1135.2 548.5,1132.3 548.9,1129.3 549.4,1126.4 549.9,1123.4 550.4,1120.5 550.9,1117.6 551.4,1114.7 551.8,1111.7 552.3,1108.8 552.8,1105.9 553.4,1103.0 553.9,1100.1 554.4,1097.2 554.9,1094.3 555.4,1091.3 555.9,1088.4 556.4,1085.5 556.9,1082.6 557.3,1079.6 557.8,1076.6 558.2,1073.6 558.6,1070.6 559.0,1067.6 559.4,1064.5 559.7,1061.5 560.1,1058.4 560.4,1055.2 560.8,1052.1 561.1,1049.0 561.6,1045.9 562.1,1042.8 562.6,1039.8 563.3,1036.8 564.1,1033.9 565.0,1031.0 566.1,1028.2 567.3,1025.5 568.8,1022.9 570.3,1020.4 572.1,1018.2 574.0,1016.2 576.1,1014.5 578.3,1013.3 580.7,1012.5 583.1,1012.2 585.7,1012.5 588.3,1013.2 591.0,1014.3 593.7,1015.7 596.3,1017.4 598.9,1019.2 601.4,1021.2 603.8,1023.3 606.1,1025.4 608.3,1027.7 610.5,1029.9 612.6,1032.2 614.6,1034.5 616.6,1036.9 618.6,1039.2 620.6,1041.5 622.5,1043.7 624.5,1046.0 626.4,1048.2 628.3,1050.4 630.3,1052.5 632.2,1054.7 634.2,1056.8 636.2,1058.9 638.3,1061.0 640.3,1063.1 642.4,1065.2 644.5,1067.3 646.7,1069.4 648.9,1071.4 651.2,1073.5 653.5,1075.6 655.8,1077.6 658.2,1079.6 660.7,1081.6 663.2,1083.5 665.7,1085.3 668.3,1086.9 671.0,1088.3 673.7,1089.5 676.4,1090.4 679.2,1091.1 681.9,1091.6 684.7,1091.8 687.5,1091.7 690.3,1091.4 693.1,1090.9 695.8,1090.1 698.4,1089.1 701.1,1087.9 703.7,1086.5 706.2,1084.9 708.7,1083.2 711.1,1081.4 713.5,1079.4 715.8,1077.4 718.1,1075.2 720.4,1073.0 722.6,1070.8 724.7,1068.5 726.8,1066.2 728.8,1063.9 730.8,1061.6 732.7,1059.2 734.6,1056.9 736.4,1054.5 738.2,1052.1 739.9,1049.6 741.7,1047.2 743.3,1044.7 745.0,1042.2 746.6,1039.7 748.1,1037.2 749.7,1034.7 751.2,1032.1 752.7,1029.6 754.1,1027.0 755.5,1024.4 756.9,1021.8 758.3,1019.2 759.7,1016.5 761.0,1013.9 762.3,1011.3 763.6,1008.6 764.9,1005.9 766.2,1003.3 767.5,1000.6 768.7,997.9 770.0,995.2 771.2,992.5 772.5,989.8 773.7,987.1 774.9,984.3 776.2,981.6 777.4,978.9 778.6,976.2 779.8,973.4 781.0,970.7 782.3,967.9 783.5,965.2 784.7,962.4 785.9,959.7 787.1,956.9 788.3,954.2 789.5,951.4 790.7,948.6 791.9,945.9 793.1,943.1 794.3,940.4 795.5,937.6 796.7,934.8 797.9,932.1 799.1,929.3 800.3,926.5 801.5,923.8 802.7,921.0 803.9,918.3 805.1,915.5 806.3,912.8 807.5,910.0 808.7,907.3 809.9,904.5 811.1,901.8 812.3,899.0 813.6,896.3 814.8,893.6 816.0,890.8 817.2,888.1 818.4,885.4 819.7,882.6 820.9,879.9 822.1,877.2 823.4,874.5 824.6,871.8 825.9,869.0 827.1,866.3 828.4,863.6 829.7,860.9 831.0,858.2 832.2,855.5 833.5,852.8 834.8,850.1 836.1,847.4 837.4,844.8 838.8,842.1 840.1,839.4 841.4,836.7 842.8,834.0 844.1,831.4 845.5,828.7 846.9,826.0 848.2,823.4 849.6,820.7 851.0,818.1 852.5,815.4 853.9,812.8 855.3,810.2 856.8,807.6 858.3,805.0 859.8,802.4 861.3,799.8 862.9,797.2 864.4,794.7 866.0,792.1 867.6,789.6 869.3,787.1 870.9,784.6 872.6,782.2 874.3,779.7 876.1,777.3 877.8,774.9 879.6,772.5 881.5,770.2 883.3,767.8 885.2,765.5 887.2,763.3 889.1,761.0 891.1,758.8 893.2,756.6 895.3,754.4 897.4,752.3 899.6,750.2 901.8,748.1 904.0,746.1 906.3,744.1 908.6,742.2 911.0,740.3 913.3,738.4 915.8,736.6 918.2,734.9 920.7,733.1 923.3,731.5 925.8,729.9 928.4,728.4 931.0,726.9 933.7,725.5 936.3,724.1 939.0,722.8 941.8,721.6 944.5,720.5 947.3,719.5 950.1,718.5 952.9,717.6 955.7,716.7 958.6,716.0 961.4,715.4 964.3,714.8 967.2,714.3 970.2,714.0 973.1,713.7 976.1,713.5 979.0,713.4 982.0,713.4 985.0,713.5 988.0,713.6 991.0,713.9 994.0,714.2 996.9,714.6 999.9,715.0 1002.9,715.6 1005.9,716.1 1008.9,716.8 1011.8,717.5 1014.8,718.3 1017.7,719.1 1020.7,720.0 1023.6,720.9 1026.5,721.8 1029.3,722.8 1032.2,723.9 1035.0,725.0 1037.8,726.1 1040.6,727.2 1043.3,728.4 1046.1,729.6 1048.8,730.8 1051.5,732.0 1054.3,733.2 1057.0,734.5 1059.7,735.7 1062.4,737.0 1065.0,738.3 1067.7,739.6 1070.4,740.9 1073.1,742.1 1075.8,743.4 1078.5,744.6 1081.2,745.9 1083.9,747.1 1086.6,748.3 1089.3,749.5 1092.1,750.7 1094.8,751.8 1097.6,752.9 1100.4,754.0 1103.2,755.0 1106.0,756.0 1108.9,757.0 1111.8,757.9 1114.6,758.8 1117.5,759.7 1120.4,760.5 1123.3,761.3 1126.3,762.0 1129.2,762.7 1132.1,763.4 1135.1,764.0 1138.1,764.6 1141.0,765.1 1144.0,765.6 1147.0,766.1 1150.0,766.5 1152.9,766.8 1155.9,767.1 1158.9,767.4 1161.9,767.6 1164.9,767.8 1167.9,767.9 1170.8,767.9 1173.8,767.9 1176.8,767.9 1179.8,767.8 1182.7,767.7 1185.7,767.5 1188.6,767.3 1191.6,767.0 1194.5,766.7 1197.5,766.4 1200.4,766.0 1203.4,765.6 1206.3,765.1 1209.2,764.6 1212.2,764.1 1215.1,763.5 1218.0,762.9 1220.9,762.3 1223.8,761.6 1226.7,760.9 1229.6,760.2 1232.6,759.4 1235.4,758.6 1238.3,757.8 1241.2,757.0 1244.1,756.2 1247.0,755.3 1249.9,754.4 1252.8,753.5 1255.6,752.6 1258.5,751.6 1261.4,750.6 1264.2,749.7 1267.1,748.7 1269.9,747.7 1272.8,746.7 1275.6,745.6 1278.5,744.6 1281.3,743.5 1284.2,742.5 1287.0,741.4 1289.8,740.4 1292.6,739.3 1295.5,738.2 1298.3,737.2 1301.1,736.1 1303.9,735.0 1306.7,734.0 1309.5,732.9 1312.3,731.8 1315.1,730.7 1317.9,729.7 1320.7,728.6 1323.5,727.5 1326.2,726.4 1329.0,725.3 1331.8,724.2 1334.5,723.0 1337.3,721.9 1340.0,720.7 1342.7,719.6 1345.5,718.4 1348.2,717.2 1350.9,716.0 1353.6,714.8 1356.3,713.5 1359.0,712.3 1361.7,711.0 1364.3,709.7 1367.0,708.3 1369.7,707.0 1372.3,705.6 1374.9,704.2 1377.6,702.8 1380.2,701.4 1382.8,699.9 1385.4,698.4 1388.0,696.9 1390.5,695.4 1393.1,693.8 1395.6,692.2 1398.2,690.6 1400.7,689.0 1403.2,687.3 1405.7,685.7 1408.2,684.0 1410.7,682.3 1413.1,680.6 1415.6,678.8 1418.0,677.0 1420.4,675.2 1422.8,673.4 1425.2,671.6 1427.6,669.8 1430.0,667.9 1432.3,666.0 1434.6,664.1 1437.0,662.2 1439.3,660.3 1441.5,658.3 1443.8,656.3 1446.1,654.3 1448.3,652.3 1450.5,650.3 1452.7,648.3 1454.9,646.2 1457.1,644.1 1459.2,642.0 1461.4,639.9 1463.5,637.8 1465.6,635.7 1467.6,633.5 1469.7,631.3 1471.7,629.1 1473.7,626.9 1475.7,624.7 1477.7,622.5 1479.7,620.2 1481.6,617.9 1483.5,615.6 1485.4,613.3 1487.3,611.0 1489.1,608.7 1491.0,606.3 1492.8,603.9 1494.6,601.5 1496.3,599.1 1498.1,596.7 1499.8,594.2 1501.5,591.8 1503.1,589.3 1504.8,586.8 1506.4,584.3 1508.0,581.8 1509.6,579.2 1511.1,576.7 1512.7,574.1 1514.2,571.6 1515.7,569.0 1517.2,566.4 1518.7,563.8 1520.2,561.2 1521.6,558.6 1523.1,555.9 1524.5,553.3 1525.9,550.7 1527.3,548.0 1528.8,545.4 1530.2,542.7 1531.6,540.0 1533.0,537.4 1534.4,534.7 1535.8,532.1 1537.2,529.4 1538.6,526.7 1540.0,524.1 1541.4,521.4 1542.8,518.8 1544.2,516.1 1545.6,513.5 1547.0,510.8 1548.5,508.2 1549.9,505.6 1551.4,502.9 1552.8,500.3 1554.3,497.7 1555.8,495.1 1557.3,492.5 1558.8,490.0 1560.3,487.4 1561.9,484.8 1563.4,482.3 1565.0,479.8 1566.6,477.2 1568.2,474.7 1569.9,472.2 1571.5,469.8 1573.2,467.3 1574.9,464.8 1576.6,462.4 1578.3,460.0 1580.0,457.6 1581.8,455.2 1583.6,452.8 1585.4,450.4 1587.2,448.0 1589.0,445.7 1590.9,443.4 1592.8,441.0 1594.7,438.7 1596.6,436.5 1598.5,434.2 1600.5,431.9 1602.4,429.7 1604.4,427.5 1606.4,425.3 1608.5,423.1 1610.5,420.9 1612.5,418.7 1614.6,416.5 1616.7,414.4 1618.7,412.2 1620.8,410.1 1622.9,407.9 1625.0,405.8 1627.1,403.6 1629.2,401.5 1631.3,399.4 1633.4,397.3 1635.6,395.1 1637.7,393.0 1639.8,390.9 1641.9,388.8 1644.0,386.7 1646.2,384.6 1648.3,382.5 1650.4,380.3 1652.5,378.2 1654.7,376.1 1656.8,374.0 1658.9,371.9 1661.1,369.8 1663.2,367.7 1665.3,365.6 1667.5,363.6 1669.6,361.5 1671.8,359.4 1673.9,357.3 1676.1,355.2 1678.2,353.1 1680.3,351.0 1682.5,349.0 1684.6,346.9 1686.8,344.8 1689.0,342.7 1691.1,340.6 1693.3,338.6 1695.4,336.5 1697.6,334.4 1699.7,332.3 1701.9,330.3 1704.1,328.2 1706.2,326.1 1708.4,324.1 1710.5,322.0 1712.7,319.9 1714.9,317.8 1717.0,315.8 1719.2,313.7 1721.4,311.7 1723.5,309.6 1725.7,307.5 1727.9,305.5 1730.1,303.4 1732.2,301.3 1734.4,299.3 1736.6,297.2 1738.8,295.2 1740.9,293.1 1743.1,291.1 1745.3,289.0 1747.5,287.0 1749.7,285.0 1751.9,283.0 1754.1,281.0 1756.4,279.0 1758.6,277.0 1760.8,275.0 1763.1,273.0 1765.3,271.1 1767.6,269.1 1769.8,267.2 1772.1,265.2 1774.4,263.3 1776.7,261.4 1779.0,259.6 1781.4,257.7 1783.7,255.8 1786.0,254.0 1788.4,252.2 1790.8,250.4 1793.2,248.6 1795.6,246.9 1798.0,245.1 1800.4,243.4 1802.9,241.7 1805.4,240.0 1807.8,238.4 1810.4,236.7 1812.9,235.1 1815.4,233.5 1818.0,232.0 1820.5,230.4 1823.1,228.9 1825.7,227.4 1828.4,226.0 1831.0,224.6 1833.7,223.1 1836.4,221.8 1839.1,220.4 1841.8,219.1 1844.5,217.8 1847.2,216.6 1850.0,215.3 1852.7,214.1 1855.5,213.0 1858.3,211.8 1861.1,210.7 1863.9,209.7 1866.7,208.6 1869.6,207.6 1872.4,206.6 1875.3,205.7 1878.1,204.8 1881.0,203.9 1883.9,203.1 1886.8,202.3 1889.7,201.5 1892.6,200.8 1895.5,200.1 1898.4,199.5 1901.3,198.8 1904.3,198.2 1907.2,197.7 1910.1,197.2 1913.1,196.7 1916.0,196.2 1919.0,195.8 1922.0,195.4 1924.9,195.1 1927.9,194.7 1930.9,194.4 1933.8,194.2 1936.8,194.0 1939.8,193.8 1942.8,193.6 1945.8,193.5 1948.8,193.4 1951.7,193.3 1954.7,193.3 1957.7,193.3 1960.7,193.3 1963.7,193.4 1966.7,193.5 1969.7,193.6 1972.7,193.8 1975.6,194.0 1978.6,194.2 1981.6,194.4 1984.6,194.7 1987.5,195.1 1990.5,195.4 1993.5,195.8 1996.4,196.2 1999.4,196.6 2002.3,197.1 2005.3,197.6 2008.2,198.1 2011.2,198.7 2014.1,199.3 2017.0,199.9 2019.9,200.6 2022.9,201.2 2025.8,201.9 2028.7,202.7 2031.5,203.4 2034.4,204.2 2037.3,205.0 2040.2,205.9 2043.0,206.7 2045.9,207.6 2048.8,208.5 2051.6,209.5 2054.5,210.4 2057.3,211.4 2060.1,212.3 2063.0,213.3 2065.8,214.3 2068.6,215.3 2071.5,216.4 2074.3,217.4 2077.1,218.5 2079.9,219.6 2082.7,220.6 2085.5,221.7 2088.3,222.8 2091.1,223.9 2094.0,225.0 2096.8,226.1 2099.6,227.2 2102.4,228.3 2105.2,229.4 2108.0,230.5 2110.8,231.6 2113.6,232.7 2116.4,233.9 2119.2,234.9 2122.0,236.0 2124.8,237.1 2127.6,238.2 2130.4,239.3 2133.2,240.3 2136.0,241.4 2138.8,242.4 2141.6,243.5 2144.4,244.5 2147.2,245.5 2150.0,246.5 2152.8,247.5 2155.7,248.4 2158.5,249.3 2161.3,250.3 2164.2,251.2 2167.0,252.0 2169.8,252.9 2172.7,253.7 2175.5,254.5"/>
</g>
<text transform="matrix(0.24668,0,0,0.24528,217.24,1569.76)" font-size="300" fill="#000" xml:space="preserve">0.0</text>
<text transform="matrix(0.24668,0,0,0.24528,217.24,1321.93)" font-size="300" fill="#000" xml:space="preserve">0.1</text>
<text transform="matrix(0.24668,0,0,0.24528,217.24,1074.10)" font-size="300" fill="#000" xml:space="preserve">0.2</text>
<text transform="matrix(0.24668,0,0,0.24528,217.24,826.27)" font-size="300" fill="#000" xml:space="preserve">0.3</text>
<text transform="matrix(0.24668,0,0,0.24528,217.24,578.44)" font-size="300" fill="#000" xml:space="preserve">0.4</text>
<text transform="matrix(0.24668,0,0,0.24528,217.24,330.61)" font-size="300" fill="#000" xml:space="preserve">0.5</text>
<text transform="matrix(0.24668,0,0,0.24528,217.24,82.78)" font-size="300" fill="#000" xml:space="preserve">0.6</text>
<text transform="matrix(0.23803,0,0,0.24245,333.54,1641.67)" font-size="300" xml:space="preserve">1</text>
<text transform="matrix(0.23803,0,0,0.24245,683.28,1641.67)" font-size="300" xml:space="preserve">2</text>
<text transform="matrix(0.23803,0,0,0.24245,1033.02,1641.67)" font-size="300" xml:space="preserve">3</text>
<text transform="matrix(0.23803,0,0,0.24245,1382.76,1641.67)" font-size="300" xml:space="preserve">4</text>
<text transform="matrix(0.23803,0,0,0.24245,1732.50,1641.67)" font-size="300" xml:space="preserve">5</text>
<text transform="matrix(0.23803,0,0,0.24245,2082.24,1641.67)" font-size="300" xml:space="preserve">6</text>
<text transform="matrix(0.31773,0,0,0.32000,1104.76,1787.80)" font-size="300" fill="#000" xml:space="preserve">Energy (eV)</text>
<text transform="matrix(0,-0.31676,0.31600,0,95.30,1149.22)" font-size="300" xml:space="preserve">Absorbance</text>
<g stroke-linecap="butt">
<path stroke="#000000" stroke-width="7.3" d="M437,150.4H606.8"/>
<path stroke="#000000" stroke-width="3.4" d="M434.6,150.4H609.2"/>
<path stroke="#FF0000" stroke-width="7.3" d="M437,240.1H606.8"/>
<path stroke="#FF0000" stroke-width="3.4" d="M434.6,240.1H609.2"/>
<path stroke="#0000FF" stroke-width="7.3" d="M437,332.6H606.8"/>
<path stroke="#0000FF" stroke-width="3.4" d="M434.6,332.6H609.2"/>
<path stroke="#008000" stroke-width="7.3" d="M437,424.8H606.8"/>
<path stroke="#008000" stroke-width="3.4" d="M434.6,424.8H609.2"/>
<path stroke="#FF00FF" stroke-width="7.3" d="M437,517H606.8"/>
<path stroke="#FF00FF" stroke-width="3.4" d="M434.6,517H609.2"/>
<path stroke="#FF8000" stroke-width="7.3" d="M437,607H606.8"/>
<path stroke="#FF8000" stroke-width="3.4" d="M434.6,607H609.2"/>
</g>
<text transform="matrix(0.25074,0,0,0.24857,623.35,174.00)" font-size="300" fill="#000" xml:space="preserve">t = 14.5 nm</text>
<text transform="matrix(0.25074,0,0,0.24857,729.91,266.30)" font-size="300" fill="#000" xml:space="preserve">10.9 nm</text>
<text transform="matrix(0.25074,0,0,0.24857,771.79,358.30)" font-size="300" fill="#000" xml:space="preserve">7.3 nm</text>
<text transform="matrix(0.25074,0,0,0.24857,771.79,450.30)" font-size="300" fill="#000" xml:space="preserve">3.6 nm</text>
<text transform="matrix(0.25074,0,0,0.24857,771.79,540.50)" font-size="300" fill="#000" xml:space="preserve">1.8 nm</text>
<text transform="matrix(0.25074,0,0,0.24857,771.79,631.90)" font-size="300" fill="#000" xml:space="preserve">0.9 nm</text>
<text transform="matrix(0.24953,0,0,0.24785,2190.95,1163.90)" font-size="300" fill="#008000" xml:space="preserve">X 2</text>
<text transform="matrix(0.24953,0,0,0.24785,2190.75,1241.50)" font-size="300" fill="#FF0080" xml:space="preserve">X 4</text>
<text transform="matrix(0.24953,0,0,0.24785,2190.65,1342.86)" font-size="300" fill="#FF8000" xml:space="preserve">X 8</text>
</svg>
</body></html>
